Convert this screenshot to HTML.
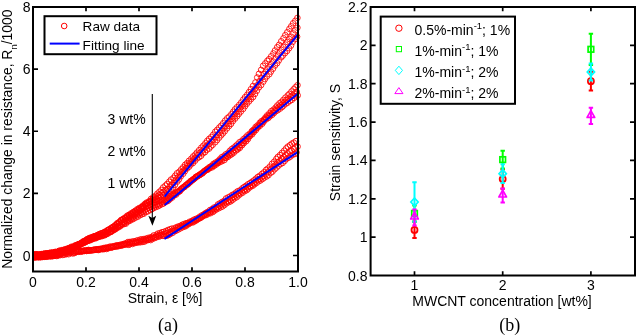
<!DOCTYPE html><html><head><meta charset="utf-8"><style>html,body{margin:0;padding:0;background:#fff;}svg{display:block;will-change:transform}</style></head><body>
<svg width="637" height="335" viewBox="0 0 637 335" font-family='"Liberation Sans", sans-serif'>
<rect width="637" height="335" fill="#fff"/>
<path d="M33.0 271.5v-4.3M33.0 7.0v4.2M86.0 271.5v-4.3M86.0 7.0v4.2M139.0 271.5v-4.3M139.0 7.0v4.2M192.0 271.5v-4.3M192.0 7.0v4.2M245.0 271.5v-4.3M245.0 7.0v4.2M298.0 271.5v-4.3M298.0 7.0v4.2M33.0 255.50h5M298.0 255.50h-5M33.0 193.38h5M298.0 193.38h-5M33.0 131.25h5M298.0 131.25h-5M33.0 69.12h5M298.0 69.12h-5" stroke="#000" stroke-width="1.7" fill="none"/>
<defs><clipPath id="lc"><rect x="33.0" y="0" width="269.0" height="271.5"/></clipPath></defs>
<g clip-path="url(#lc)"><g fill="none" stroke="#ff0000" stroke-width="0.85">
<path d="M31.3 255.1a2.8 2.8 0 1 0 5.6 0a2.8 2.8 0 1 0 -5.6 0M33.4 254.4a2.8 2.8 0 1 0 5.6 0a2.8 2.8 0 1 0 -5.6 0M35.1 254.6a2.8 2.8 0 1 0 5.6 0a2.8 2.8 0 1 0 -5.6 0M37.3 254.4a2.8 2.8 0 1 0 5.6 0a2.8 2.8 0 1 0 -5.6 0M39.2 254.2a2.8 2.8 0 1 0 5.6 0a2.8 2.8 0 1 0 -5.6 0M41.1 254.0a2.8 2.8 0 1 0 5.6 0a2.8 2.8 0 1 0 -5.6 0M43.2 253.7a2.8 2.8 0 1 0 5.6 0a2.8 2.8 0 1 0 -5.6 0M45.2 253.6a2.8 2.8 0 1 0 5.6 0a2.8 2.8 0 1 0 -5.6 0M47.1 253.2a2.8 2.8 0 1 0 5.6 0a2.8 2.8 0 1 0 -5.6 0M49.2 253.0a2.8 2.8 0 1 0 5.6 0a2.8 2.8 0 1 0 -5.6 0M51.4 252.8a2.8 2.8 0 1 0 5.6 0a2.8 2.8 0 1 0 -5.6 0M52.8 252.9a2.8 2.8 0 1 0 5.6 0a2.8 2.8 0 1 0 -5.6 0M55.2 252.0a2.8 2.8 0 1 0 5.6 0a2.8 2.8 0 1 0 -5.6 0M57.3 252.1a2.8 2.8 0 1 0 5.6 0a2.8 2.8 0 1 0 -5.6 0M59.5 252.0a2.8 2.8 0 1 0 5.6 0a2.8 2.8 0 1 0 -5.6 0M61.2 251.4a2.8 2.8 0 1 0 5.6 0a2.8 2.8 0 1 0 -5.6 0M63.3 252.0a2.8 2.8 0 1 0 5.6 0a2.8 2.8 0 1 0 -5.6 0M65.1 251.5a2.8 2.8 0 1 0 5.6 0a2.8 2.8 0 1 0 -5.6 0M67.2 250.8a2.8 2.8 0 1 0 5.6 0a2.8 2.8 0 1 0 -5.6 0M69.0 251.1a2.8 2.8 0 1 0 5.6 0a2.8 2.8 0 1 0 -5.6 0M71.2 250.8a2.8 2.8 0 1 0 5.6 0a2.8 2.8 0 1 0 -5.6 0M73.2 250.7a2.8 2.8 0 1 0 5.6 0a2.8 2.8 0 1 0 -5.6 0M75.2 250.9a2.8 2.8 0 1 0 5.6 0a2.8 2.8 0 1 0 -5.6 0M77.3 250.7a2.8 2.8 0 1 0 5.6 0a2.8 2.8 0 1 0 -5.6 0M79.3 251.0a2.8 2.8 0 1 0 5.6 0a2.8 2.8 0 1 0 -5.6 0M81.3 250.6a2.8 2.8 0 1 0 5.6 0a2.8 2.8 0 1 0 -5.6 0M83.4 250.6a2.8 2.8 0 1 0 5.6 0a2.8 2.8 0 1 0 -5.6 0M85.4 250.4a2.8 2.8 0 1 0 5.6 0a2.8 2.8 0 1 0 -5.6 0M87.0 250.5a2.8 2.8 0 1 0 5.6 0a2.8 2.8 0 1 0 -5.6 0M89.2 250.2a2.8 2.8 0 1 0 5.6 0a2.8 2.8 0 1 0 -5.6 0M91.1 250.1a2.8 2.8 0 1 0 5.6 0a2.8 2.8 0 1 0 -5.6 0M93.3 249.4a2.8 2.8 0 1 0 5.6 0a2.8 2.8 0 1 0 -5.6 0M95.3 249.1a2.8 2.8 0 1 0 5.6 0a2.8 2.8 0 1 0 -5.6 0M97.0 249.0a2.8 2.8 0 1 0 5.6 0a2.8 2.8 0 1 0 -5.6 0M99.4 248.5a2.8 2.8 0 1 0 5.6 0a2.8 2.8 0 1 0 -5.6 0M101.1 248.0a2.8 2.8 0 1 0 5.6 0a2.8 2.8 0 1 0 -5.6 0M103.3 247.9a2.8 2.8 0 1 0 5.6 0a2.8 2.8 0 1 0 -5.6 0M105.2 247.6a2.8 2.8 0 1 0 5.6 0a2.8 2.8 0 1 0 -5.6 0M107.2 246.6a2.8 2.8 0 1 0 5.6 0a2.8 2.8 0 1 0 -5.6 0M109.3 246.5a2.8 2.8 0 1 0 5.6 0a2.8 2.8 0 1 0 -5.6 0M111.0 246.2a2.8 2.8 0 1 0 5.6 0a2.8 2.8 0 1 0 -5.6 0M113.4 245.4a2.8 2.8 0 1 0 5.6 0a2.8 2.8 0 1 0 -5.6 0M115.1 245.4a2.8 2.8 0 1 0 5.6 0a2.8 2.8 0 1 0 -5.6 0M117.3 244.8a2.8 2.8 0 1 0 5.6 0a2.8 2.8 0 1 0 -5.6 0M119.4 244.4a2.8 2.8 0 1 0 5.6 0a2.8 2.8 0 1 0 -5.6 0M121.2 243.8a2.8 2.8 0 1 0 5.6 0a2.8 2.8 0 1 0 -5.6 0M123.4 243.1a2.8 2.8 0 1 0 5.6 0a2.8 2.8 0 1 0 -5.6 0M125.2 242.0a2.8 2.8 0 1 0 5.6 0a2.8 2.8 0 1 0 -5.6 0M127.0 242.0a2.8 2.8 0 1 0 5.6 0a2.8 2.8 0 1 0 -5.6 0M129.1 241.6a2.8 2.8 0 1 0 5.6 0a2.8 2.8 0 1 0 -5.6 0M131.2 241.3a2.8 2.8 0 1 0 5.6 0a2.8 2.8 0 1 0 -5.6 0M133.4 240.8a2.8 2.8 0 1 0 5.6 0a2.8 2.8 0 1 0 -5.6 0M135.1 240.3a2.8 2.8 0 1 0 5.6 0a2.8 2.8 0 1 0 -5.6 0M137.5 239.5a2.8 2.8 0 1 0 5.6 0a2.8 2.8 0 1 0 -5.6 0M139.1 239.4a2.8 2.8 0 1 0 5.6 0a2.8 2.8 0 1 0 -5.6 0M141.2 239.0a2.8 2.8 0 1 0 5.6 0a2.8 2.8 0 1 0 -5.6 0M143.2 238.7a2.8 2.8 0 1 0 5.6 0a2.8 2.8 0 1 0 -5.6 0M145.1 238.0a2.8 2.8 0 1 0 5.6 0a2.8 2.8 0 1 0 -5.6 0M147.1 237.5a2.8 2.8 0 1 0 5.6 0a2.8 2.8 0 1 0 -5.6 0M149.5 236.8a2.8 2.8 0 1 0 5.6 0a2.8 2.8 0 1 0 -5.6 0M150.9 235.4a2.8 2.8 0 1 0 5.6 0a2.8 2.8 0 1 0 -5.6 0M153.6 234.9a2.8 2.8 0 1 0 5.6 0a2.8 2.8 0 1 0 -5.6 0M155.0 233.6a2.8 2.8 0 1 0 5.6 0a2.8 2.8 0 1 0 -5.6 0M157.1 233.1a2.8 2.8 0 1 0 5.6 0a2.8 2.8 0 1 0 -5.6 0M159.2 232.2a2.8 2.8 0 1 0 5.6 0a2.8 2.8 0 1 0 -5.6 0M161.2 231.8a2.8 2.8 0 1 0 5.6 0a2.8 2.8 0 1 0 -5.6 0M163.2 231.0a2.8 2.8 0 1 0 5.6 0a2.8 2.8 0 1 0 -5.6 0M165.2 230.0a2.8 2.8 0 1 0 5.6 0a2.8 2.8 0 1 0 -5.6 0M167.2 229.3a2.8 2.8 0 1 0 5.6 0a2.8 2.8 0 1 0 -5.6 0M169.1 228.6a2.8 2.8 0 1 0 5.6 0a2.8 2.8 0 1 0 -5.6 0M171.2 228.5a2.8 2.8 0 1 0 5.6 0a2.8 2.8 0 1 0 -5.6 0M173.3 227.4a2.8 2.8 0 1 0 5.6 0a2.8 2.8 0 1 0 -5.6 0M175.2 226.6a2.8 2.8 0 1 0 5.6 0a2.8 2.8 0 1 0 -5.6 0M177.3 226.0a2.8 2.8 0 1 0 5.6 0a2.8 2.8 0 1 0 -5.6 0M179.3 224.8a2.8 2.8 0 1 0 5.6 0a2.8 2.8 0 1 0 -5.6 0M181.1 224.1a2.8 2.8 0 1 0 5.6 0a2.8 2.8 0 1 0 -5.6 0M183.2 223.2a2.8 2.8 0 1 0 5.6 0a2.8 2.8 0 1 0 -5.6 0M185.0 223.0a2.8 2.8 0 1 0 5.6 0a2.8 2.8 0 1 0 -5.6 0M186.9 221.7a2.8 2.8 0 1 0 5.6 0a2.8 2.8 0 1 0 -5.6 0M189.4 220.8a2.8 2.8 0 1 0 5.6 0a2.8 2.8 0 1 0 -5.6 0M191.1 219.7a2.8 2.8 0 1 0 5.6 0a2.8 2.8 0 1 0 -5.6 0M193.3 218.8a2.8 2.8 0 1 0 5.6 0a2.8 2.8 0 1 0 -5.6 0M195.5 217.9a2.8 2.8 0 1 0 5.6 0a2.8 2.8 0 1 0 -5.6 0M197.1 216.6a2.8 2.8 0 1 0 5.6 0a2.8 2.8 0 1 0 -5.6 0M199.2 215.3a2.8 2.8 0 1 0 5.6 0a2.8 2.8 0 1 0 -5.6 0M201.2 214.2a2.8 2.8 0 1 0 5.6 0a2.8 2.8 0 1 0 -5.6 0M203.0 212.9a2.8 2.8 0 1 0 5.6 0a2.8 2.8 0 1 0 -5.6 0M205.1 211.8a2.8 2.8 0 1 0 5.6 0a2.8 2.8 0 1 0 -5.6 0M207.3 210.0a2.8 2.8 0 1 0 5.6 0a2.8 2.8 0 1 0 -5.6 0M209.3 209.2a2.8 2.8 0 1 0 5.6 0a2.8 2.8 0 1 0 -5.6 0M211.1 207.6a2.8 2.8 0 1 0 5.6 0a2.8 2.8 0 1 0 -5.6 0M213.4 206.9a2.8 2.8 0 1 0 5.6 0a2.8 2.8 0 1 0 -5.6 0M215.1 204.5a2.8 2.8 0 1 0 5.6 0a2.8 2.8 0 1 0 -5.6 0M217.0 203.4a2.8 2.8 0 1 0 5.6 0a2.8 2.8 0 1 0 -5.6 0M219.2 202.0a2.8 2.8 0 1 0 5.6 0a2.8 2.8 0 1 0 -5.6 0M221.4 200.9a2.8 2.8 0 1 0 5.6 0a2.8 2.8 0 1 0 -5.6 0M223.2 198.5a2.8 2.8 0 1 0 5.6 0a2.8 2.8 0 1 0 -5.6 0M225.4 197.4a2.8 2.8 0 1 0 5.6 0a2.8 2.8 0 1 0 -5.6 0M227.3 196.5a2.8 2.8 0 1 0 5.6 0a2.8 2.8 0 1 0 -5.6 0M229.5 194.9a2.8 2.8 0 1 0 5.6 0a2.8 2.8 0 1 0 -5.6 0M231.1 194.4a2.8 2.8 0 1 0 5.6 0a2.8 2.8 0 1 0 -5.6 0M233.1 192.6a2.8 2.8 0 1 0 5.6 0a2.8 2.8 0 1 0 -5.6 0M235.0 191.2a2.8 2.8 0 1 0 5.6 0a2.8 2.8 0 1 0 -5.6 0M237.1 190.4a2.8 2.8 0 1 0 5.6 0a2.8 2.8 0 1 0 -5.6 0M239.3 188.5a2.8 2.8 0 1 0 5.6 0a2.8 2.8 0 1 0 -5.6 0M241.2 187.1a2.8 2.8 0 1 0 5.6 0a2.8 2.8 0 1 0 -5.6 0M243.2 185.8a2.8 2.8 0 1 0 5.6 0a2.8 2.8 0 1 0 -5.6 0M245.2 184.3a2.8 2.8 0 1 0 5.6 0a2.8 2.8 0 1 0 -5.6 0M247.2 183.1a2.8 2.8 0 1 0 5.6 0a2.8 2.8 0 1 0 -5.6 0M249.2 181.7a2.8 2.8 0 1 0 5.6 0a2.8 2.8 0 1 0 -5.6 0M251.2 180.4a2.8 2.8 0 1 0 5.6 0a2.8 2.8 0 1 0 -5.6 0M253.1 178.7a2.8 2.8 0 1 0 5.6 0a2.8 2.8 0 1 0 -5.6 0M255.0 177.0a2.8 2.8 0 1 0 5.6 0a2.8 2.8 0 1 0 -5.6 0M257.1 175.7a2.8 2.8 0 1 0 5.6 0a2.8 2.8 0 1 0 -5.6 0M259.3 173.8a2.8 2.8 0 1 0 5.6 0a2.8 2.8 0 1 0 -5.6 0M261.2 172.3a2.8 2.8 0 1 0 5.6 0a2.8 2.8 0 1 0 -5.6 0M263.3 169.9a2.8 2.8 0 1 0 5.6 0a2.8 2.8 0 1 0 -5.6 0M265.0 168.6a2.8 2.8 0 1 0 5.6 0a2.8 2.8 0 1 0 -5.6 0M267.1 166.6a2.8 2.8 0 1 0 5.6 0a2.8 2.8 0 1 0 -5.6 0M269.2 163.8a2.8 2.8 0 1 0 5.6 0a2.8 2.8 0 1 0 -5.6 0M271.3 161.7a2.8 2.8 0 1 0 5.6 0a2.8 2.8 0 1 0 -5.6 0M273.5 159.0a2.8 2.8 0 1 0 5.6 0a2.8 2.8 0 1 0 -5.6 0M275.0 157.0a2.8 2.8 0 1 0 5.6 0a2.8 2.8 0 1 0 -5.6 0M277.2 155.1a2.8 2.8 0 1 0 5.6 0a2.8 2.8 0 1 0 -5.6 0M279.2 152.9a2.8 2.8 0 1 0 5.6 0a2.8 2.8 0 1 0 -5.6 0M281.3 150.7a2.8 2.8 0 1 0 5.6 0a2.8 2.8 0 1 0 -5.6 0M283.3 148.4a2.8 2.8 0 1 0 5.6 0a2.8 2.8 0 1 0 -5.6 0M285.1 146.6a2.8 2.8 0 1 0 5.6 0a2.8 2.8 0 1 0 -5.6 0M287.3 145.1a2.8 2.8 0 1 0 5.6 0a2.8 2.8 0 1 0 -5.6 0M289.1 143.6a2.8 2.8 0 1 0 5.6 0a2.8 2.8 0 1 0 -5.6 0M291.0 142.6a2.8 2.8 0 1 0 5.6 0a2.8 2.8 0 1 0 -5.6 0M293.2 141.1a2.8 2.8 0 1 0 5.6 0a2.8 2.8 0 1 0 -5.6 0M30.9 256.1a2.8 2.8 0 1 0 5.6 0a2.8 2.8 0 1 0 -5.6 0M32.7 256.2a2.8 2.8 0 1 0 5.6 0a2.8 2.8 0 1 0 -5.6 0M34.9 255.7a2.8 2.8 0 1 0 5.6 0a2.8 2.8 0 1 0 -5.6 0M37.3 255.1a2.8 2.8 0 1 0 5.6 0a2.8 2.8 0 1 0 -5.6 0M38.8 255.4a2.8 2.8 0 1 0 5.6 0a2.8 2.8 0 1 0 -5.6 0M40.9 255.6a2.8 2.8 0 1 0 5.6 0a2.8 2.8 0 1 0 -5.6 0M43.0 254.8a2.8 2.8 0 1 0 5.6 0a2.8 2.8 0 1 0 -5.6 0M44.8 255.3a2.8 2.8 0 1 0 5.6 0a2.8 2.8 0 1 0 -5.6 0M46.9 254.9a2.8 2.8 0 1 0 5.6 0a2.8 2.8 0 1 0 -5.6 0M48.9 254.5a2.8 2.8 0 1 0 5.6 0a2.8 2.8 0 1 0 -5.6 0M50.8 254.6a2.8 2.8 0 1 0 5.6 0a2.8 2.8 0 1 0 -5.6 0M52.8 254.0a2.8 2.8 0 1 0 5.6 0a2.8 2.8 0 1 0 -5.6 0M55.0 253.9a2.8 2.8 0 1 0 5.6 0a2.8 2.8 0 1 0 -5.6 0M57.0 253.9a2.8 2.8 0 1 0 5.6 0a2.8 2.8 0 1 0 -5.6 0M58.9 253.6a2.8 2.8 0 1 0 5.6 0a2.8 2.8 0 1 0 -5.6 0M61.0 253.1a2.8 2.8 0 1 0 5.6 0a2.8 2.8 0 1 0 -5.6 0M62.8 253.5a2.8 2.8 0 1 0 5.6 0a2.8 2.8 0 1 0 -5.6 0M64.9 252.6a2.8 2.8 0 1 0 5.6 0a2.8 2.8 0 1 0 -5.6 0M66.8 252.4a2.8 2.8 0 1 0 5.6 0a2.8 2.8 0 1 0 -5.6 0M68.8 252.3a2.8 2.8 0 1 0 5.6 0a2.8 2.8 0 1 0 -5.6 0M70.9 252.4a2.8 2.8 0 1 0 5.6 0a2.8 2.8 0 1 0 -5.6 0M73.0 251.9a2.8 2.8 0 1 0 5.6 0a2.8 2.8 0 1 0 -5.6 0M75.1 251.6a2.8 2.8 0 1 0 5.6 0a2.8 2.8 0 1 0 -5.6 0M76.8 251.3a2.8 2.8 0 1 0 5.6 0a2.8 2.8 0 1 0 -5.6 0M78.9 251.1a2.8 2.8 0 1 0 5.6 0a2.8 2.8 0 1 0 -5.6 0M80.9 250.7a2.8 2.8 0 1 0 5.6 0a2.8 2.8 0 1 0 -5.6 0M83.1 250.4a2.8 2.8 0 1 0 5.6 0a2.8 2.8 0 1 0 -5.6 0M84.8 250.7a2.8 2.8 0 1 0 5.6 0a2.8 2.8 0 1 0 -5.6 0M86.8 250.3a2.8 2.8 0 1 0 5.6 0a2.8 2.8 0 1 0 -5.6 0M88.7 250.3a2.8 2.8 0 1 0 5.6 0a2.8 2.8 0 1 0 -5.6 0M90.8 249.9a2.8 2.8 0 1 0 5.6 0a2.8 2.8 0 1 0 -5.6 0M93.0 249.7a2.8 2.8 0 1 0 5.6 0a2.8 2.8 0 1 0 -5.6 0M94.9 249.8a2.8 2.8 0 1 0 5.6 0a2.8 2.8 0 1 0 -5.6 0M96.7 249.3a2.8 2.8 0 1 0 5.6 0a2.8 2.8 0 1 0 -5.6 0M98.9 249.1a2.8 2.8 0 1 0 5.6 0a2.8 2.8 0 1 0 -5.6 0M101.1 248.8a2.8 2.8 0 1 0 5.6 0a2.8 2.8 0 1 0 -5.6 0M102.9 247.7a2.8 2.8 0 1 0 5.6 0a2.8 2.8 0 1 0 -5.6 0M105.0 247.7a2.8 2.8 0 1 0 5.6 0a2.8 2.8 0 1 0 -5.6 0M106.8 247.3a2.8 2.8 0 1 0 5.6 0a2.8 2.8 0 1 0 -5.6 0M109.0 247.3a2.8 2.8 0 1 0 5.6 0a2.8 2.8 0 1 0 -5.6 0M110.8 246.8a2.8 2.8 0 1 0 5.6 0a2.8 2.8 0 1 0 -5.6 0M113.0 246.1a2.8 2.8 0 1 0 5.6 0a2.8 2.8 0 1 0 -5.6 0M114.6 245.8a2.8 2.8 0 1 0 5.6 0a2.8 2.8 0 1 0 -5.6 0M116.9 245.5a2.8 2.8 0 1 0 5.6 0a2.8 2.8 0 1 0 -5.6 0M118.8 245.1a2.8 2.8 0 1 0 5.6 0a2.8 2.8 0 1 0 -5.6 0M120.7 244.6a2.8 2.8 0 1 0 5.6 0a2.8 2.8 0 1 0 -5.6 0M122.8 244.1a2.8 2.8 0 1 0 5.6 0a2.8 2.8 0 1 0 -5.6 0M125.0 243.7a2.8 2.8 0 1 0 5.6 0a2.8 2.8 0 1 0 -5.6 0M126.9 243.0a2.8 2.8 0 1 0 5.6 0a2.8 2.8 0 1 0 -5.6 0M129.1 242.8a2.8 2.8 0 1 0 5.6 0a2.8 2.8 0 1 0 -5.6 0M130.7 242.6a2.8 2.8 0 1 0 5.6 0a2.8 2.8 0 1 0 -5.6 0M133.0 242.1a2.8 2.8 0 1 0 5.6 0a2.8 2.8 0 1 0 -5.6 0M134.6 242.1a2.8 2.8 0 1 0 5.6 0a2.8 2.8 0 1 0 -5.6 0M137.1 241.1a2.8 2.8 0 1 0 5.6 0a2.8 2.8 0 1 0 -5.6 0M138.7 240.5a2.8 2.8 0 1 0 5.6 0a2.8 2.8 0 1 0 -5.6 0M141.0 240.5a2.8 2.8 0 1 0 5.6 0a2.8 2.8 0 1 0 -5.6 0M143.0 239.8a2.8 2.8 0 1 0 5.6 0a2.8 2.8 0 1 0 -5.6 0M145.1 239.5a2.8 2.8 0 1 0 5.6 0a2.8 2.8 0 1 0 -5.6 0M147.0 238.9a2.8 2.8 0 1 0 5.6 0a2.8 2.8 0 1 0 -5.6 0M148.8 238.0a2.8 2.8 0 1 0 5.6 0a2.8 2.8 0 1 0 -5.6 0M151.0 237.4a2.8 2.8 0 1 0 5.6 0a2.8 2.8 0 1 0 -5.6 0M152.8 236.7a2.8 2.8 0 1 0 5.6 0a2.8 2.8 0 1 0 -5.6 0M155.0 235.9a2.8 2.8 0 1 0 5.6 0a2.8 2.8 0 1 0 -5.6 0M156.8 235.0a2.8 2.8 0 1 0 5.6 0a2.8 2.8 0 1 0 -5.6 0M158.6 234.5a2.8 2.8 0 1 0 5.6 0a2.8 2.8 0 1 0 -5.6 0M160.9 234.2a2.8 2.8 0 1 0 5.6 0a2.8 2.8 0 1 0 -5.6 0M163.0 233.5a2.8 2.8 0 1 0 5.6 0a2.8 2.8 0 1 0 -5.6 0M164.8 232.7a2.8 2.8 0 1 0 5.6 0a2.8 2.8 0 1 0 -5.6 0M167.2 232.2a2.8 2.8 0 1 0 5.6 0a2.8 2.8 0 1 0 -5.6 0M169.0 231.0a2.8 2.8 0 1 0 5.6 0a2.8 2.8 0 1 0 -5.6 0M170.9 230.7a2.8 2.8 0 1 0 5.6 0a2.8 2.8 0 1 0 -5.6 0M172.7 229.7a2.8 2.8 0 1 0 5.6 0a2.8 2.8 0 1 0 -5.6 0M175.0 227.9a2.8 2.8 0 1 0 5.6 0a2.8 2.8 0 1 0 -5.6 0M176.8 227.2a2.8 2.8 0 1 0 5.6 0a2.8 2.8 0 1 0 -5.6 0M179.0 226.3a2.8 2.8 0 1 0 5.6 0a2.8 2.8 0 1 0 -5.6 0M180.8 225.9a2.8 2.8 0 1 0 5.6 0a2.8 2.8 0 1 0 -5.6 0M182.9 225.0a2.8 2.8 0 1 0 5.6 0a2.8 2.8 0 1 0 -5.6 0M184.9 223.8a2.8 2.8 0 1 0 5.6 0a2.8 2.8 0 1 0 -5.6 0M187.0 222.8a2.8 2.8 0 1 0 5.6 0a2.8 2.8 0 1 0 -5.6 0M188.8 222.0a2.8 2.8 0 1 0 5.6 0a2.8 2.8 0 1 0 -5.6 0M190.8 221.2a2.8 2.8 0 1 0 5.6 0a2.8 2.8 0 1 0 -5.6 0M192.9 220.0a2.8 2.8 0 1 0 5.6 0a2.8 2.8 0 1 0 -5.6 0M194.8 219.2a2.8 2.8 0 1 0 5.6 0a2.8 2.8 0 1 0 -5.6 0M196.9 218.2a2.8 2.8 0 1 0 5.6 0a2.8 2.8 0 1 0 -5.6 0M198.8 216.6a2.8 2.8 0 1 0 5.6 0a2.8 2.8 0 1 0 -5.6 0M200.9 215.6a2.8 2.8 0 1 0 5.6 0a2.8 2.8 0 1 0 -5.6 0M202.7 214.1a2.8 2.8 0 1 0 5.6 0a2.8 2.8 0 1 0 -5.6 0M204.8 213.0a2.8 2.8 0 1 0 5.6 0a2.8 2.8 0 1 0 -5.6 0M207.1 212.3a2.8 2.8 0 1 0 5.6 0a2.8 2.8 0 1 0 -5.6 0M208.9 211.0a2.8 2.8 0 1 0 5.6 0a2.8 2.8 0 1 0 -5.6 0M210.9 209.5a2.8 2.8 0 1 0 5.6 0a2.8 2.8 0 1 0 -5.6 0M213.2 208.6a2.8 2.8 0 1 0 5.6 0a2.8 2.8 0 1 0 -5.6 0M214.8 207.3a2.8 2.8 0 1 0 5.6 0a2.8 2.8 0 1 0 -5.6 0M216.8 205.8a2.8 2.8 0 1 0 5.6 0a2.8 2.8 0 1 0 -5.6 0M218.8 204.4a2.8 2.8 0 1 0 5.6 0a2.8 2.8 0 1 0 -5.6 0M221.2 203.4a2.8 2.8 0 1 0 5.6 0a2.8 2.8 0 1 0 -5.6 0M223.1 202.0a2.8 2.8 0 1 0 5.6 0a2.8 2.8 0 1 0 -5.6 0M224.9 201.2a2.8 2.8 0 1 0 5.6 0a2.8 2.8 0 1 0 -5.6 0M227.0 199.9a2.8 2.8 0 1 0 5.6 0a2.8 2.8 0 1 0 -5.6 0M228.9 198.1a2.8 2.8 0 1 0 5.6 0a2.8 2.8 0 1 0 -5.6 0M230.8 196.9a2.8 2.8 0 1 0 5.6 0a2.8 2.8 0 1 0 -5.6 0M232.9 195.5a2.8 2.8 0 1 0 5.6 0a2.8 2.8 0 1 0 -5.6 0M234.7 194.3a2.8 2.8 0 1 0 5.6 0a2.8 2.8 0 1 0 -5.6 0M236.6 192.8a2.8 2.8 0 1 0 5.6 0a2.8 2.8 0 1 0 -5.6 0M239.0 191.5a2.8 2.8 0 1 0 5.6 0a2.8 2.8 0 1 0 -5.6 0M240.9 190.1a2.8 2.8 0 1 0 5.6 0a2.8 2.8 0 1 0 -5.6 0M242.8 188.8a2.8 2.8 0 1 0 5.6 0a2.8 2.8 0 1 0 -5.6 0M245.0 187.1a2.8 2.8 0 1 0 5.6 0a2.8 2.8 0 1 0 -5.6 0M246.9 186.0a2.8 2.8 0 1 0 5.6 0a2.8 2.8 0 1 0 -5.6 0M248.9 185.0a2.8 2.8 0 1 0 5.6 0a2.8 2.8 0 1 0 -5.6 0M251.1 183.2a2.8 2.8 0 1 0 5.6 0a2.8 2.8 0 1 0 -5.6 0M252.8 181.5a2.8 2.8 0 1 0 5.6 0a2.8 2.8 0 1 0 -5.6 0M254.9 179.8a2.8 2.8 0 1 0 5.6 0a2.8 2.8 0 1 0 -5.6 0M256.9 178.9a2.8 2.8 0 1 0 5.6 0a2.8 2.8 0 1 0 -5.6 0M258.8 177.3a2.8 2.8 0 1 0 5.6 0a2.8 2.8 0 1 0 -5.6 0M260.6 175.9a2.8 2.8 0 1 0 5.6 0a2.8 2.8 0 1 0 -5.6 0M262.9 174.2a2.8 2.8 0 1 0 5.6 0a2.8 2.8 0 1 0 -5.6 0M265.2 172.2a2.8 2.8 0 1 0 5.6 0a2.8 2.8 0 1 0 -5.6 0M266.7 170.3a2.8 2.8 0 1 0 5.6 0a2.8 2.8 0 1 0 -5.6 0M269.0 168.5a2.8 2.8 0 1 0 5.6 0a2.8 2.8 0 1 0 -5.6 0M271.0 166.5a2.8 2.8 0 1 0 5.6 0a2.8 2.8 0 1 0 -5.6 0M272.9 164.9a2.8 2.8 0 1 0 5.6 0a2.8 2.8 0 1 0 -5.6 0M274.8 162.4a2.8 2.8 0 1 0 5.6 0a2.8 2.8 0 1 0 -5.6 0M276.7 161.2a2.8 2.8 0 1 0 5.6 0a2.8 2.8 0 1 0 -5.6 0M278.9 158.7a2.8 2.8 0 1 0 5.6 0a2.8 2.8 0 1 0 -5.6 0M280.9 157.1a2.8 2.8 0 1 0 5.6 0a2.8 2.8 0 1 0 -5.6 0M282.7 155.2a2.8 2.8 0 1 0 5.6 0a2.8 2.8 0 1 0 -5.6 0M285.0 153.4a2.8 2.8 0 1 0 5.6 0a2.8 2.8 0 1 0 -5.6 0M287.1 151.2a2.8 2.8 0 1 0 5.6 0a2.8 2.8 0 1 0 -5.6 0M288.8 150.8a2.8 2.8 0 1 0 5.6 0a2.8 2.8 0 1 0 -5.6 0M291.1 149.0a2.8 2.8 0 1 0 5.6 0a2.8 2.8 0 1 0 -5.6 0M292.6 147.5a2.8 2.8 0 1 0 5.6 0a2.8 2.8 0 1 0 -5.6 0M294.8 146.6a2.8 2.8 0 1 0 5.6 0a2.8 2.8 0 1 0 -5.6 0M31.9 257.1a2.8 2.8 0 1 0 5.6 0a2.8 2.8 0 1 0 -5.6 0M33.9 256.6a2.8 2.8 0 1 0 5.6 0a2.8 2.8 0 1 0 -5.6 0M36.0 257.4a2.8 2.8 0 1 0 5.6 0a2.8 2.8 0 1 0 -5.6 0M37.9 257.1a2.8 2.8 0 1 0 5.6 0a2.8 2.8 0 1 0 -5.6 0M39.7 257.0a2.8 2.8 0 1 0 5.6 0a2.8 2.8 0 1 0 -5.6 0M41.8 256.8a2.8 2.8 0 1 0 5.6 0a2.8 2.8 0 1 0 -5.6 0M43.9 256.7a2.8 2.8 0 1 0 5.6 0a2.8 2.8 0 1 0 -5.6 0M45.9 256.0a2.8 2.8 0 1 0 5.6 0a2.8 2.8 0 1 0 -5.6 0M47.7 256.5a2.8 2.8 0 1 0 5.6 0a2.8 2.8 0 1 0 -5.6 0M49.7 255.9a2.8 2.8 0 1 0 5.6 0a2.8 2.8 0 1 0 -5.6 0M52.0 255.5a2.8 2.8 0 1 0 5.6 0a2.8 2.8 0 1 0 -5.6 0M54.0 256.0a2.8 2.8 0 1 0 5.6 0a2.8 2.8 0 1 0 -5.6 0M55.8 255.4a2.8 2.8 0 1 0 5.6 0a2.8 2.8 0 1 0 -5.6 0M57.7 255.1a2.8 2.8 0 1 0 5.6 0a2.8 2.8 0 1 0 -5.6 0M60.0 255.0a2.8 2.8 0 1 0 5.6 0a2.8 2.8 0 1 0 -5.6 0M61.8 254.6a2.8 2.8 0 1 0 5.6 0a2.8 2.8 0 1 0 -5.6 0M63.8 254.1a2.8 2.8 0 1 0 5.6 0a2.8 2.8 0 1 0 -5.6 0M65.9 254.2a2.8 2.8 0 1 0 5.6 0a2.8 2.8 0 1 0 -5.6 0M67.9 252.9a2.8 2.8 0 1 0 5.6 0a2.8 2.8 0 1 0 -5.6 0M70.0 253.5a2.8 2.8 0 1 0 5.6 0a2.8 2.8 0 1 0 -5.6 0M71.9 253.0a2.8 2.8 0 1 0 5.6 0a2.8 2.8 0 1 0 -5.6 0M73.6 251.9a2.8 2.8 0 1 0 5.6 0a2.8 2.8 0 1 0 -5.6 0M75.8 251.8a2.8 2.8 0 1 0 5.6 0a2.8 2.8 0 1 0 -5.6 0M78.0 251.8a2.8 2.8 0 1 0 5.6 0a2.8 2.8 0 1 0 -5.6 0M80.0 251.3a2.8 2.8 0 1 0 5.6 0a2.8 2.8 0 1 0 -5.6 0M81.7 251.0a2.8 2.8 0 1 0 5.6 0a2.8 2.8 0 1 0 -5.6 0M83.7 251.0a2.8 2.8 0 1 0 5.6 0a2.8 2.8 0 1 0 -5.6 0M85.7 249.9a2.8 2.8 0 1 0 5.6 0a2.8 2.8 0 1 0 -5.6 0M87.4 250.5a2.8 2.8 0 1 0 5.6 0a2.8 2.8 0 1 0 -5.6 0M89.8 250.1a2.8 2.8 0 1 0 5.6 0a2.8 2.8 0 1 0 -5.6 0M91.6 249.6a2.8 2.8 0 1 0 5.6 0a2.8 2.8 0 1 0 -5.6 0M93.8 249.7a2.8 2.8 0 1 0 5.6 0a2.8 2.8 0 1 0 -5.6 0M95.9 250.0a2.8 2.8 0 1 0 5.6 0a2.8 2.8 0 1 0 -5.6 0M97.7 249.0a2.8 2.8 0 1 0 5.6 0a2.8 2.8 0 1 0 -5.6 0M100.1 249.3a2.8 2.8 0 1 0 5.6 0a2.8 2.8 0 1 0 -5.6 0M101.9 249.0a2.8 2.8 0 1 0 5.6 0a2.8 2.8 0 1 0 -5.6 0M103.8 249.0a2.8 2.8 0 1 0 5.6 0a2.8 2.8 0 1 0 -5.6 0M105.6 248.2a2.8 2.8 0 1 0 5.6 0a2.8 2.8 0 1 0 -5.6 0M108.2 247.7a2.8 2.8 0 1 0 5.6 0a2.8 2.8 0 1 0 -5.6 0M109.9 247.1a2.8 2.8 0 1 0 5.6 0a2.8 2.8 0 1 0 -5.6 0M111.9 246.6a2.8 2.8 0 1 0 5.6 0a2.8 2.8 0 1 0 -5.6 0M113.8 246.7a2.8 2.8 0 1 0 5.6 0a2.8 2.8 0 1 0 -5.6 0M116.0 246.1a2.8 2.8 0 1 0 5.6 0a2.8 2.8 0 1 0 -5.6 0M118.1 245.6a2.8 2.8 0 1 0 5.6 0a2.8 2.8 0 1 0 -5.6 0M119.8 245.3a2.8 2.8 0 1 0 5.6 0a2.8 2.8 0 1 0 -5.6 0M121.7 244.6a2.8 2.8 0 1 0 5.6 0a2.8 2.8 0 1 0 -5.6 0M123.8 244.6a2.8 2.8 0 1 0 5.6 0a2.8 2.8 0 1 0 -5.6 0M126.1 244.9a2.8 2.8 0 1 0 5.6 0a2.8 2.8 0 1 0 -5.6 0M127.8 243.8a2.8 2.8 0 1 0 5.6 0a2.8 2.8 0 1 0 -5.6 0M129.6 244.0a2.8 2.8 0 1 0 5.6 0a2.8 2.8 0 1 0 -5.6 0M132.0 243.1a2.8 2.8 0 1 0 5.6 0a2.8 2.8 0 1 0 -5.6 0M133.8 242.6a2.8 2.8 0 1 0 5.6 0a2.8 2.8 0 1 0 -5.6 0M136.0 242.4a2.8 2.8 0 1 0 5.6 0a2.8 2.8 0 1 0 -5.6 0M137.9 242.2a2.8 2.8 0 1 0 5.6 0a2.8 2.8 0 1 0 -5.6 0M139.9 241.9a2.8 2.8 0 1 0 5.6 0a2.8 2.8 0 1 0 -5.6 0M141.7 241.6a2.8 2.8 0 1 0 5.6 0a2.8 2.8 0 1 0 -5.6 0M143.6 240.5a2.8 2.8 0 1 0 5.6 0a2.8 2.8 0 1 0 -5.6 0M145.8 239.9a2.8 2.8 0 1 0 5.6 0a2.8 2.8 0 1 0 -5.6 0M147.9 240.1a2.8 2.8 0 1 0 5.6 0a2.8 2.8 0 1 0 -5.6 0M149.7 238.9a2.8 2.8 0 1 0 5.6 0a2.8 2.8 0 1 0 -5.6 0M151.8 238.1a2.8 2.8 0 1 0 5.6 0a2.8 2.8 0 1 0 -5.6 0M153.6 237.3a2.8 2.8 0 1 0 5.6 0a2.8 2.8 0 1 0 -5.6 0M156.0 236.7a2.8 2.8 0 1 0 5.6 0a2.8 2.8 0 1 0 -5.6 0M157.8 235.9a2.8 2.8 0 1 0 5.6 0a2.8 2.8 0 1 0 -5.6 0M159.9 235.7a2.8 2.8 0 1 0 5.6 0a2.8 2.8 0 1 0 -5.6 0M161.5 235.9a2.8 2.8 0 1 0 5.6 0a2.8 2.8 0 1 0 -5.6 0M164.1 235.7a2.8 2.8 0 1 0 5.6 0a2.8 2.8 0 1 0 -5.6 0M166.0 234.9a2.8 2.8 0 1 0 5.6 0a2.8 2.8 0 1 0 -5.6 0M167.5 233.9a2.8 2.8 0 1 0 5.6 0a2.8 2.8 0 1 0 -5.6 0M169.8 232.9a2.8 2.8 0 1 0 5.6 0a2.8 2.8 0 1 0 -5.6 0M172.0 231.2a2.8 2.8 0 1 0 5.6 0a2.8 2.8 0 1 0 -5.6 0M173.8 230.4a2.8 2.8 0 1 0 5.6 0a2.8 2.8 0 1 0 -5.6 0M175.7 229.4a2.8 2.8 0 1 0 5.6 0a2.8 2.8 0 1 0 -5.6 0M177.7 228.3a2.8 2.8 0 1 0 5.6 0a2.8 2.8 0 1 0 -5.6 0M179.7 227.3a2.8 2.8 0 1 0 5.6 0a2.8 2.8 0 1 0 -5.6 0M181.9 226.6a2.8 2.8 0 1 0 5.6 0a2.8 2.8 0 1 0 -5.6 0M183.7 225.6a2.8 2.8 0 1 0 5.6 0a2.8 2.8 0 1 0 -5.6 0M186.0 224.1a2.8 2.8 0 1 0 5.6 0a2.8 2.8 0 1 0 -5.6 0M187.7 222.5a2.8 2.8 0 1 0 5.6 0a2.8 2.8 0 1 0 -5.6 0M189.9 222.5a2.8 2.8 0 1 0 5.6 0a2.8 2.8 0 1 0 -5.6 0M191.8 221.4a2.8 2.8 0 1 0 5.6 0a2.8 2.8 0 1 0 -5.6 0M193.7 220.3a2.8 2.8 0 1 0 5.6 0a2.8 2.8 0 1 0 -5.6 0M195.6 218.7a2.8 2.8 0 1 0 5.6 0a2.8 2.8 0 1 0 -5.6 0M197.8 217.9a2.8 2.8 0 1 0 5.6 0a2.8 2.8 0 1 0 -5.6 0M199.3 216.8a2.8 2.8 0 1 0 5.6 0a2.8 2.8 0 1 0 -5.6 0M201.8 215.4a2.8 2.8 0 1 0 5.6 0a2.8 2.8 0 1 0 -5.6 0M203.8 214.9a2.8 2.8 0 1 0 5.6 0a2.8 2.8 0 1 0 -5.6 0M205.5 213.6a2.8 2.8 0 1 0 5.6 0a2.8 2.8 0 1 0 -5.6 0M207.7 213.2a2.8 2.8 0 1 0 5.6 0a2.8 2.8 0 1 0 -5.6 0M210.1 212.0a2.8 2.8 0 1 0 5.6 0a2.8 2.8 0 1 0 -5.6 0M211.8 210.6a2.8 2.8 0 1 0 5.6 0a2.8 2.8 0 1 0 -5.6 0M213.7 209.4a2.8 2.8 0 1 0 5.6 0a2.8 2.8 0 1 0 -5.6 0M215.9 208.3a2.8 2.8 0 1 0 5.6 0a2.8 2.8 0 1 0 -5.6 0M218.0 207.2a2.8 2.8 0 1 0 5.6 0a2.8 2.8 0 1 0 -5.6 0M219.8 206.4a2.8 2.8 0 1 0 5.6 0a2.8 2.8 0 1 0 -5.6 0M221.7 205.0a2.8 2.8 0 1 0 5.6 0a2.8 2.8 0 1 0 -5.6 0M223.8 203.3a2.8 2.8 0 1 0 5.6 0a2.8 2.8 0 1 0 -5.6 0M226.0 202.1a2.8 2.8 0 1 0 5.6 0a2.8 2.8 0 1 0 -5.6 0M228.0 201.3a2.8 2.8 0 1 0 5.6 0a2.8 2.8 0 1 0 -5.6 0M229.9 199.8a2.8 2.8 0 1 0 5.6 0a2.8 2.8 0 1 0 -5.6 0M231.7 198.3a2.8 2.8 0 1 0 5.6 0a2.8 2.8 0 1 0 -5.6 0M233.9 197.2a2.8 2.8 0 1 0 5.6 0a2.8 2.8 0 1 0 -5.6 0M235.9 195.4a2.8 2.8 0 1 0 5.6 0a2.8 2.8 0 1 0 -5.6 0M237.8 193.8a2.8 2.8 0 1 0 5.6 0a2.8 2.8 0 1 0 -5.6 0M239.8 192.7a2.8 2.8 0 1 0 5.6 0a2.8 2.8 0 1 0 -5.6 0M242.0 191.1a2.8 2.8 0 1 0 5.6 0a2.8 2.8 0 1 0 -5.6 0M244.0 190.1a2.8 2.8 0 1 0 5.6 0a2.8 2.8 0 1 0 -5.6 0M245.7 188.5a2.8 2.8 0 1 0 5.6 0a2.8 2.8 0 1 0 -5.6 0M247.7 186.9a2.8 2.8 0 1 0 5.6 0a2.8 2.8 0 1 0 -5.6 0M250.0 185.7a2.8 2.8 0 1 0 5.6 0a2.8 2.8 0 1 0 -5.6 0M251.8 184.3a2.8 2.8 0 1 0 5.6 0a2.8 2.8 0 1 0 -5.6 0M253.9 182.8a2.8 2.8 0 1 0 5.6 0a2.8 2.8 0 1 0 -5.6 0M255.9 181.2a2.8 2.8 0 1 0 5.6 0a2.8 2.8 0 1 0 -5.6 0M257.8 180.4a2.8 2.8 0 1 0 5.6 0a2.8 2.8 0 1 0 -5.6 0M259.9 178.9a2.8 2.8 0 1 0 5.6 0a2.8 2.8 0 1 0 -5.6 0M261.7 177.5a2.8 2.8 0 1 0 5.6 0a2.8 2.8 0 1 0 -5.6 0M263.9 176.4a2.8 2.8 0 1 0 5.6 0a2.8 2.8 0 1 0 -5.6 0M265.7 175.1a2.8 2.8 0 1 0 5.6 0a2.8 2.8 0 1 0 -5.6 0M268.0 172.7a2.8 2.8 0 1 0 5.6 0a2.8 2.8 0 1 0 -5.6 0M269.7 171.6a2.8 2.8 0 1 0 5.6 0a2.8 2.8 0 1 0 -5.6 0M271.8 169.3a2.8 2.8 0 1 0 5.6 0a2.8 2.8 0 1 0 -5.6 0M273.8 167.5a2.8 2.8 0 1 0 5.6 0a2.8 2.8 0 1 0 -5.6 0M275.8 165.6a2.8 2.8 0 1 0 5.6 0a2.8 2.8 0 1 0 -5.6 0M277.8 163.9a2.8 2.8 0 1 0 5.6 0a2.8 2.8 0 1 0 -5.6 0M279.8 163.0a2.8 2.8 0 1 0 5.6 0a2.8 2.8 0 1 0 -5.6 0M281.8 161.0a2.8 2.8 0 1 0 5.6 0a2.8 2.8 0 1 0 -5.6 0M283.6 158.9a2.8 2.8 0 1 0 5.6 0a2.8 2.8 0 1 0 -5.6 0M285.8 157.7a2.8 2.8 0 1 0 5.6 0a2.8 2.8 0 1 0 -5.6 0M287.7 156.5a2.8 2.8 0 1 0 5.6 0a2.8 2.8 0 1 0 -5.6 0M289.9 154.7a2.8 2.8 0 1 0 5.6 0a2.8 2.8 0 1 0 -5.6 0M292.1 154.0a2.8 2.8 0 1 0 5.6 0a2.8 2.8 0 1 0 -5.6 0M293.7 152.4a2.8 2.8 0 1 0 5.6 0a2.8 2.8 0 1 0 -5.6 0"/>
<path d="M30.7 254.8a2.8 2.8 0 1 0 5.6 0a2.8 2.8 0 1 0 -5.6 0M33.0 254.2a2.8 2.8 0 1 0 5.6 0a2.8 2.8 0 1 0 -5.6 0M34.7 255.0a2.8 2.8 0 1 0 5.6 0a2.8 2.8 0 1 0 -5.6 0M36.8 254.7a2.8 2.8 0 1 0 5.6 0a2.8 2.8 0 1 0 -5.6 0M38.9 254.1a2.8 2.8 0 1 0 5.6 0a2.8 2.8 0 1 0 -5.6 0M40.7 253.9a2.8 2.8 0 1 0 5.6 0a2.8 2.8 0 1 0 -5.6 0M42.8 253.5a2.8 2.8 0 1 0 5.6 0a2.8 2.8 0 1 0 -5.6 0M44.8 253.4a2.8 2.8 0 1 0 5.6 0a2.8 2.8 0 1 0 -5.6 0M46.7 252.9a2.8 2.8 0 1 0 5.6 0a2.8 2.8 0 1 0 -5.6 0M48.8 252.5a2.8 2.8 0 1 0 5.6 0a2.8 2.8 0 1 0 -5.6 0M50.8 252.5a2.8 2.8 0 1 0 5.6 0a2.8 2.8 0 1 0 -5.6 0M52.6 252.1a2.8 2.8 0 1 0 5.6 0a2.8 2.8 0 1 0 -5.6 0M55.0 251.8a2.8 2.8 0 1 0 5.6 0a2.8 2.8 0 1 0 -5.6 0M56.5 250.7a2.8 2.8 0 1 0 5.6 0a2.8 2.8 0 1 0 -5.6 0M58.8 250.2a2.8 2.8 0 1 0 5.6 0a2.8 2.8 0 1 0 -5.6 0M60.9 250.1a2.8 2.8 0 1 0 5.6 0a2.8 2.8 0 1 0 -5.6 0M62.8 249.6a2.8 2.8 0 1 0 5.6 0a2.8 2.8 0 1 0 -5.6 0M64.7 248.9a2.8 2.8 0 1 0 5.6 0a2.8 2.8 0 1 0 -5.6 0M66.6 248.4a2.8 2.8 0 1 0 5.6 0a2.8 2.8 0 1 0 -5.6 0M68.8 247.4a2.8 2.8 0 1 0 5.6 0a2.8 2.8 0 1 0 -5.6 0M70.6 247.3a2.8 2.8 0 1 0 5.6 0a2.8 2.8 0 1 0 -5.6 0M72.6 245.8a2.8 2.8 0 1 0 5.6 0a2.8 2.8 0 1 0 -5.6 0M74.7 245.5a2.8 2.8 0 1 0 5.6 0a2.8 2.8 0 1 0 -5.6 0M76.4 244.6a2.8 2.8 0 1 0 5.6 0a2.8 2.8 0 1 0 -5.6 0M78.9 243.7a2.8 2.8 0 1 0 5.6 0a2.8 2.8 0 1 0 -5.6 0M80.7 242.1a2.8 2.8 0 1 0 5.6 0a2.8 2.8 0 1 0 -5.6 0M82.7 241.8a2.8 2.8 0 1 0 5.6 0a2.8 2.8 0 1 0 -5.6 0M85.1 240.8a2.8 2.8 0 1 0 5.6 0a2.8 2.8 0 1 0 -5.6 0M86.7 239.8a2.8 2.8 0 1 0 5.6 0a2.8 2.8 0 1 0 -5.6 0M88.8 238.7a2.8 2.8 0 1 0 5.6 0a2.8 2.8 0 1 0 -5.6 0M90.7 238.1a2.8 2.8 0 1 0 5.6 0a2.8 2.8 0 1 0 -5.6 0M92.8 237.5a2.8 2.8 0 1 0 5.6 0a2.8 2.8 0 1 0 -5.6 0M94.5 236.5a2.8 2.8 0 1 0 5.6 0a2.8 2.8 0 1 0 -5.6 0M96.9 235.5a2.8 2.8 0 1 0 5.6 0a2.8 2.8 0 1 0 -5.6 0M98.9 235.4a2.8 2.8 0 1 0 5.6 0a2.8 2.8 0 1 0 -5.6 0M100.6 234.6a2.8 2.8 0 1 0 5.6 0a2.8 2.8 0 1 0 -5.6 0M102.7 233.8a2.8 2.8 0 1 0 5.6 0a2.8 2.8 0 1 0 -5.6 0M104.6 232.4a2.8 2.8 0 1 0 5.6 0a2.8 2.8 0 1 0 -5.6 0M106.8 232.1a2.8 2.8 0 1 0 5.6 0a2.8 2.8 0 1 0 -5.6 0M108.7 230.5a2.8 2.8 0 1 0 5.6 0a2.8 2.8 0 1 0 -5.6 0M110.9 228.9a2.8 2.8 0 1 0 5.6 0a2.8 2.8 0 1 0 -5.6 0M112.6 227.7a2.8 2.8 0 1 0 5.6 0a2.8 2.8 0 1 0 -5.6 0M114.6 226.3a2.8 2.8 0 1 0 5.6 0a2.8 2.8 0 1 0 -5.6 0M116.9 224.9a2.8 2.8 0 1 0 5.6 0a2.8 2.8 0 1 0 -5.6 0M118.9 223.3a2.8 2.8 0 1 0 5.6 0a2.8 2.8 0 1 0 -5.6 0M120.7 222.0a2.8 2.8 0 1 0 5.6 0a2.8 2.8 0 1 0 -5.6 0M122.7 220.6a2.8 2.8 0 1 0 5.6 0a2.8 2.8 0 1 0 -5.6 0M124.7 219.5a2.8 2.8 0 1 0 5.6 0a2.8 2.8 0 1 0 -5.6 0M126.6 217.9a2.8 2.8 0 1 0 5.6 0a2.8 2.8 0 1 0 -5.6 0M128.5 216.5a2.8 2.8 0 1 0 5.6 0a2.8 2.8 0 1 0 -5.6 0M130.8 215.2a2.8 2.8 0 1 0 5.6 0a2.8 2.8 0 1 0 -5.6 0M132.8 214.1a2.8 2.8 0 1 0 5.6 0a2.8 2.8 0 1 0 -5.6 0M134.8 213.1a2.8 2.8 0 1 0 5.6 0a2.8 2.8 0 1 0 -5.6 0M137.0 211.0a2.8 2.8 0 1 0 5.6 0a2.8 2.8 0 1 0 -5.6 0M138.9 209.4a2.8 2.8 0 1 0 5.6 0a2.8 2.8 0 1 0 -5.6 0M140.8 207.8a2.8 2.8 0 1 0 5.6 0a2.8 2.8 0 1 0 -5.6 0M142.9 206.1a2.8 2.8 0 1 0 5.6 0a2.8 2.8 0 1 0 -5.6 0M144.6 205.3a2.8 2.8 0 1 0 5.6 0a2.8 2.8 0 1 0 -5.6 0M146.8 204.7a2.8 2.8 0 1 0 5.6 0a2.8 2.8 0 1 0 -5.6 0M148.6 203.4a2.8 2.8 0 1 0 5.6 0a2.8 2.8 0 1 0 -5.6 0M150.7 202.7a2.8 2.8 0 1 0 5.6 0a2.8 2.8 0 1 0 -5.6 0M152.8 202.3a2.8 2.8 0 1 0 5.6 0a2.8 2.8 0 1 0 -5.6 0M154.6 201.4a2.8 2.8 0 1 0 5.6 0a2.8 2.8 0 1 0 -5.6 0M156.5 200.8a2.8 2.8 0 1 0 5.6 0a2.8 2.8 0 1 0 -5.6 0M158.7 200.2a2.8 2.8 0 1 0 5.6 0a2.8 2.8 0 1 0 -5.6 0M160.9 199.8a2.8 2.8 0 1 0 5.6 0a2.8 2.8 0 1 0 -5.6 0M162.8 198.6a2.8 2.8 0 1 0 5.6 0a2.8 2.8 0 1 0 -5.6 0M165.0 197.7a2.8 2.8 0 1 0 5.6 0a2.8 2.8 0 1 0 -5.6 0M166.8 196.7a2.8 2.8 0 1 0 5.6 0a2.8 2.8 0 1 0 -5.6 0M168.6 195.3a2.8 2.8 0 1 0 5.6 0a2.8 2.8 0 1 0 -5.6 0M170.7 194.3a2.8 2.8 0 1 0 5.6 0a2.8 2.8 0 1 0 -5.6 0M172.5 193.0a2.8 2.8 0 1 0 5.6 0a2.8 2.8 0 1 0 -5.6 0M174.6 191.7a2.8 2.8 0 1 0 5.6 0a2.8 2.8 0 1 0 -5.6 0M176.7 190.5a2.8 2.8 0 1 0 5.6 0a2.8 2.8 0 1 0 -5.6 0M178.5 188.8a2.8 2.8 0 1 0 5.6 0a2.8 2.8 0 1 0 -5.6 0M180.6 187.1a2.8 2.8 0 1 0 5.6 0a2.8 2.8 0 1 0 -5.6 0M182.7 185.4a2.8 2.8 0 1 0 5.6 0a2.8 2.8 0 1 0 -5.6 0M184.8 183.8a2.8 2.8 0 1 0 5.6 0a2.8 2.8 0 1 0 -5.6 0M186.8 182.6a2.8 2.8 0 1 0 5.6 0a2.8 2.8 0 1 0 -5.6 0M188.5 180.7a2.8 2.8 0 1 0 5.6 0a2.8 2.8 0 1 0 -5.6 0M190.7 179.0a2.8 2.8 0 1 0 5.6 0a2.8 2.8 0 1 0 -5.6 0M192.8 177.2a2.8 2.8 0 1 0 5.6 0a2.8 2.8 0 1 0 -5.6 0M194.7 176.2a2.8 2.8 0 1 0 5.6 0a2.8 2.8 0 1 0 -5.6 0M196.8 175.1a2.8 2.8 0 1 0 5.6 0a2.8 2.8 0 1 0 -5.6 0M198.6 173.4a2.8 2.8 0 1 0 5.6 0a2.8 2.8 0 1 0 -5.6 0M200.8 171.9a2.8 2.8 0 1 0 5.6 0a2.8 2.8 0 1 0 -5.6 0M202.9 170.1a2.8 2.8 0 1 0 5.6 0a2.8 2.8 0 1 0 -5.6 0M204.4 168.9a2.8 2.8 0 1 0 5.6 0a2.8 2.8 0 1 0 -5.6 0M206.5 167.3a2.8 2.8 0 1 0 5.6 0a2.8 2.8 0 1 0 -5.6 0M208.8 166.0a2.8 2.8 0 1 0 5.6 0a2.8 2.8 0 1 0 -5.6 0M210.6 163.9a2.8 2.8 0 1 0 5.6 0a2.8 2.8 0 1 0 -5.6 0M212.7 162.6a2.8 2.8 0 1 0 5.6 0a2.8 2.8 0 1 0 -5.6 0M214.8 161.4a2.8 2.8 0 1 0 5.6 0a2.8 2.8 0 1 0 -5.6 0M216.8 159.4a2.8 2.8 0 1 0 5.6 0a2.8 2.8 0 1 0 -5.6 0M218.8 157.3a2.8 2.8 0 1 0 5.6 0a2.8 2.8 0 1 0 -5.6 0M220.7 156.4a2.8 2.8 0 1 0 5.6 0a2.8 2.8 0 1 0 -5.6 0M222.8 154.4a2.8 2.8 0 1 0 5.6 0a2.8 2.8 0 1 0 -5.6 0M224.8 153.4a2.8 2.8 0 1 0 5.6 0a2.8 2.8 0 1 0 -5.6 0M226.9 151.0a2.8 2.8 0 1 0 5.6 0a2.8 2.8 0 1 0 -5.6 0M228.8 149.1a2.8 2.8 0 1 0 5.6 0a2.8 2.8 0 1 0 -5.6 0M230.9 147.7a2.8 2.8 0 1 0 5.6 0a2.8 2.8 0 1 0 -5.6 0M232.9 146.0a2.8 2.8 0 1 0 5.6 0a2.8 2.8 0 1 0 -5.6 0M234.5 144.5a2.8 2.8 0 1 0 5.6 0a2.8 2.8 0 1 0 -5.6 0M236.7 142.2a2.8 2.8 0 1 0 5.6 0a2.8 2.8 0 1 0 -5.6 0M238.7 141.3a2.8 2.8 0 1 0 5.6 0a2.8 2.8 0 1 0 -5.6 0M240.7 139.1a2.8 2.8 0 1 0 5.6 0a2.8 2.8 0 1 0 -5.6 0M242.8 137.4a2.8 2.8 0 1 0 5.6 0a2.8 2.8 0 1 0 -5.6 0M244.6 135.4a2.8 2.8 0 1 0 5.6 0a2.8 2.8 0 1 0 -5.6 0M246.9 133.7a2.8 2.8 0 1 0 5.6 0a2.8 2.8 0 1 0 -5.6 0M249.1 131.1a2.8 2.8 0 1 0 5.6 0a2.8 2.8 0 1 0 -5.6 0M250.7 129.7a2.8 2.8 0 1 0 5.6 0a2.8 2.8 0 1 0 -5.6 0M252.8 127.0a2.8 2.8 0 1 0 5.6 0a2.8 2.8 0 1 0 -5.6 0M254.6 125.5a2.8 2.8 0 1 0 5.6 0a2.8 2.8 0 1 0 -5.6 0M256.9 122.9a2.8 2.8 0 1 0 5.6 0a2.8 2.8 0 1 0 -5.6 0M258.7 121.1a2.8 2.8 0 1 0 5.6 0a2.8 2.8 0 1 0 -5.6 0M261.0 119.9a2.8 2.8 0 1 0 5.6 0a2.8 2.8 0 1 0 -5.6 0M262.7 117.4a2.8 2.8 0 1 0 5.6 0a2.8 2.8 0 1 0 -5.6 0M264.4 115.4a2.8 2.8 0 1 0 5.6 0a2.8 2.8 0 1 0 -5.6 0M266.6 113.3a2.8 2.8 0 1 0 5.6 0a2.8 2.8 0 1 0 -5.6 0M268.5 111.1a2.8 2.8 0 1 0 5.6 0a2.8 2.8 0 1 0 -5.6 0M270.7 109.6a2.8 2.8 0 1 0 5.6 0a2.8 2.8 0 1 0 -5.6 0M272.8 107.6a2.8 2.8 0 1 0 5.6 0a2.8 2.8 0 1 0 -5.6 0M274.5 105.5a2.8 2.8 0 1 0 5.6 0a2.8 2.8 0 1 0 -5.6 0M276.7 103.3a2.8 2.8 0 1 0 5.6 0a2.8 2.8 0 1 0 -5.6 0M278.7 101.9a2.8 2.8 0 1 0 5.6 0a2.8 2.8 0 1 0 -5.6 0M280.5 99.9a2.8 2.8 0 1 0 5.6 0a2.8 2.8 0 1 0 -5.6 0M282.6 97.6a2.8 2.8 0 1 0 5.6 0a2.8 2.8 0 1 0 -5.6 0M285.0 95.4a2.8 2.8 0 1 0 5.6 0a2.8 2.8 0 1 0 -5.6 0M286.6 93.9a2.8 2.8 0 1 0 5.6 0a2.8 2.8 0 1 0 -5.6 0M288.7 91.5a2.8 2.8 0 1 0 5.6 0a2.8 2.8 0 1 0 -5.6 0M290.8 89.3a2.8 2.8 0 1 0 5.6 0a2.8 2.8 0 1 0 -5.6 0M292.7 87.2a2.8 2.8 0 1 0 5.6 0a2.8 2.8 0 1 0 -5.6 0M294.7 85.2a2.8 2.8 0 1 0 5.6 0a2.8 2.8 0 1 0 -5.6 0M31.7 255.7a2.8 2.8 0 1 0 5.6 0a2.8 2.8 0 1 0 -5.6 0M33.8 255.8a2.8 2.8 0 1 0 5.6 0a2.8 2.8 0 1 0 -5.6 0M36.1 255.9a2.8 2.8 0 1 0 5.6 0a2.8 2.8 0 1 0 -5.6 0M37.8 255.9a2.8 2.8 0 1 0 5.6 0a2.8 2.8 0 1 0 -5.6 0M39.8 255.7a2.8 2.8 0 1 0 5.6 0a2.8 2.8 0 1 0 -5.6 0M42.0 255.7a2.8 2.8 0 1 0 5.6 0a2.8 2.8 0 1 0 -5.6 0M44.0 254.8a2.8 2.8 0 1 0 5.6 0a2.8 2.8 0 1 0 -5.6 0M45.5 255.1a2.8 2.8 0 1 0 5.6 0a2.8 2.8 0 1 0 -5.6 0M47.8 254.5a2.8 2.8 0 1 0 5.6 0a2.8 2.8 0 1 0 -5.6 0M49.7 254.0a2.8 2.8 0 1 0 5.6 0a2.8 2.8 0 1 0 -5.6 0M52.0 253.9a2.8 2.8 0 1 0 5.6 0a2.8 2.8 0 1 0 -5.6 0M54.3 253.8a2.8 2.8 0 1 0 5.6 0a2.8 2.8 0 1 0 -5.6 0M56.0 253.1a2.8 2.8 0 1 0 5.6 0a2.8 2.8 0 1 0 -5.6 0M57.9 252.6a2.8 2.8 0 1 0 5.6 0a2.8 2.8 0 1 0 -5.6 0M59.6 251.6a2.8 2.8 0 1 0 5.6 0a2.8 2.8 0 1 0 -5.6 0M62.0 251.0a2.8 2.8 0 1 0 5.6 0a2.8 2.8 0 1 0 -5.6 0M64.0 250.8a2.8 2.8 0 1 0 5.6 0a2.8 2.8 0 1 0 -5.6 0M65.7 249.7a2.8 2.8 0 1 0 5.6 0a2.8 2.8 0 1 0 -5.6 0M68.1 249.1a2.8 2.8 0 1 0 5.6 0a2.8 2.8 0 1 0 -5.6 0M69.9 247.8a2.8 2.8 0 1 0 5.6 0a2.8 2.8 0 1 0 -5.6 0M72.1 246.9a2.8 2.8 0 1 0 5.6 0a2.8 2.8 0 1 0 -5.6 0M73.9 246.3a2.8 2.8 0 1 0 5.6 0a2.8 2.8 0 1 0 -5.6 0M75.9 245.4a2.8 2.8 0 1 0 5.6 0a2.8 2.8 0 1 0 -5.6 0M77.7 244.2a2.8 2.8 0 1 0 5.6 0a2.8 2.8 0 1 0 -5.6 0M79.6 242.9a2.8 2.8 0 1 0 5.6 0a2.8 2.8 0 1 0 -5.6 0M82.2 242.3a2.8 2.8 0 1 0 5.6 0a2.8 2.8 0 1 0 -5.6 0M83.9 240.8a2.8 2.8 0 1 0 5.6 0a2.8 2.8 0 1 0 -5.6 0M85.7 240.4a2.8 2.8 0 1 0 5.6 0a2.8 2.8 0 1 0 -5.6 0M87.7 239.6a2.8 2.8 0 1 0 5.6 0a2.8 2.8 0 1 0 -5.6 0M89.8 239.1a2.8 2.8 0 1 0 5.6 0a2.8 2.8 0 1 0 -5.6 0M92.0 238.1a2.8 2.8 0 1 0 5.6 0a2.8 2.8 0 1 0 -5.6 0M93.6 237.3a2.8 2.8 0 1 0 5.6 0a2.8 2.8 0 1 0 -5.6 0M96.0 236.7a2.8 2.8 0 1 0 5.6 0a2.8 2.8 0 1 0 -5.6 0M97.9 236.1a2.8 2.8 0 1 0 5.6 0a2.8 2.8 0 1 0 -5.6 0M99.9 235.1a2.8 2.8 0 1 0 5.6 0a2.8 2.8 0 1 0 -5.6 0M101.9 234.8a2.8 2.8 0 1 0 5.6 0a2.8 2.8 0 1 0 -5.6 0M103.8 234.2a2.8 2.8 0 1 0 5.6 0a2.8 2.8 0 1 0 -5.6 0M105.6 232.5a2.8 2.8 0 1 0 5.6 0a2.8 2.8 0 1 0 -5.6 0M107.9 231.9a2.8 2.8 0 1 0 5.6 0a2.8 2.8 0 1 0 -5.6 0M109.9 230.6a2.8 2.8 0 1 0 5.6 0a2.8 2.8 0 1 0 -5.6 0M112.1 229.4a2.8 2.8 0 1 0 5.6 0a2.8 2.8 0 1 0 -5.6 0M113.9 227.6a2.8 2.8 0 1 0 5.6 0a2.8 2.8 0 1 0 -5.6 0M115.7 226.6a2.8 2.8 0 1 0 5.6 0a2.8 2.8 0 1 0 -5.6 0M118.1 225.4a2.8 2.8 0 1 0 5.6 0a2.8 2.8 0 1 0 -5.6 0M119.8 224.0a2.8 2.8 0 1 0 5.6 0a2.8 2.8 0 1 0 -5.6 0M121.7 222.7a2.8 2.8 0 1 0 5.6 0a2.8 2.8 0 1 0 -5.6 0M123.8 221.4a2.8 2.8 0 1 0 5.6 0a2.8 2.8 0 1 0 -5.6 0M125.8 220.2a2.8 2.8 0 1 0 5.6 0a2.8 2.8 0 1 0 -5.6 0M128.1 219.1a2.8 2.8 0 1 0 5.6 0a2.8 2.8 0 1 0 -5.6 0M130.0 217.5a2.8 2.8 0 1 0 5.6 0a2.8 2.8 0 1 0 -5.6 0M131.6 216.1a2.8 2.8 0 1 0 5.6 0a2.8 2.8 0 1 0 -5.6 0M133.9 215.4a2.8 2.8 0 1 0 5.6 0a2.8 2.8 0 1 0 -5.6 0M135.6 214.3a2.8 2.8 0 1 0 5.6 0a2.8 2.8 0 1 0 -5.6 0M137.9 212.9a2.8 2.8 0 1 0 5.6 0a2.8 2.8 0 1 0 -5.6 0M139.9 211.9a2.8 2.8 0 1 0 5.6 0a2.8 2.8 0 1 0 -5.6 0M141.7 210.5a2.8 2.8 0 1 0 5.6 0a2.8 2.8 0 1 0 -5.6 0M143.8 209.0a2.8 2.8 0 1 0 5.6 0a2.8 2.8 0 1 0 -5.6 0M145.7 208.1a2.8 2.8 0 1 0 5.6 0a2.8 2.8 0 1 0 -5.6 0M148.0 206.8a2.8 2.8 0 1 0 5.6 0a2.8 2.8 0 1 0 -5.6 0M149.9 206.6a2.8 2.8 0 1 0 5.6 0a2.8 2.8 0 1 0 -5.6 0M151.8 205.4a2.8 2.8 0 1 0 5.6 0a2.8 2.8 0 1 0 -5.6 0M154.0 204.8a2.8 2.8 0 1 0 5.6 0a2.8 2.8 0 1 0 -5.6 0M155.9 204.2a2.8 2.8 0 1 0 5.6 0a2.8 2.8 0 1 0 -5.6 0M157.8 202.7a2.8 2.8 0 1 0 5.6 0a2.8 2.8 0 1 0 -5.6 0M159.7 201.8a2.8 2.8 0 1 0 5.6 0a2.8 2.8 0 1 0 -5.6 0M162.0 201.4a2.8 2.8 0 1 0 5.6 0a2.8 2.8 0 1 0 -5.6 0M164.1 199.7a2.8 2.8 0 1 0 5.6 0a2.8 2.8 0 1 0 -5.6 0M165.7 198.8a2.8 2.8 0 1 0 5.6 0a2.8 2.8 0 1 0 -5.6 0M167.9 197.5a2.8 2.8 0 1 0 5.6 0a2.8 2.8 0 1 0 -5.6 0M169.6 195.8a2.8 2.8 0 1 0 5.6 0a2.8 2.8 0 1 0 -5.6 0M171.9 194.5a2.8 2.8 0 1 0 5.6 0a2.8 2.8 0 1 0 -5.6 0M174.0 192.3a2.8 2.8 0 1 0 5.6 0a2.8 2.8 0 1 0 -5.6 0M175.8 191.5a2.8 2.8 0 1 0 5.6 0a2.8 2.8 0 1 0 -5.6 0M177.8 189.8a2.8 2.8 0 1 0 5.6 0a2.8 2.8 0 1 0 -5.6 0M179.8 187.9a2.8 2.8 0 1 0 5.6 0a2.8 2.8 0 1 0 -5.6 0M181.7 186.7a2.8 2.8 0 1 0 5.6 0a2.8 2.8 0 1 0 -5.6 0M183.9 184.8a2.8 2.8 0 1 0 5.6 0a2.8 2.8 0 1 0 -5.6 0M185.8 182.9a2.8 2.8 0 1 0 5.6 0a2.8 2.8 0 1 0 -5.6 0M187.7 181.1a2.8 2.8 0 1 0 5.6 0a2.8 2.8 0 1 0 -5.6 0M189.9 179.9a2.8 2.8 0 1 0 5.6 0a2.8 2.8 0 1 0 -5.6 0M192.3 178.1a2.8 2.8 0 1 0 5.6 0a2.8 2.8 0 1 0 -5.6 0M193.9 176.7a2.8 2.8 0 1 0 5.6 0a2.8 2.8 0 1 0 -5.6 0M195.8 175.4a2.8 2.8 0 1 0 5.6 0a2.8 2.8 0 1 0 -5.6 0M197.8 174.3a2.8 2.8 0 1 0 5.6 0a2.8 2.8 0 1 0 -5.6 0M200.0 172.9a2.8 2.8 0 1 0 5.6 0a2.8 2.8 0 1 0 -5.6 0M202.0 171.0a2.8 2.8 0 1 0 5.6 0a2.8 2.8 0 1 0 -5.6 0M204.3 169.7a2.8 2.8 0 1 0 5.6 0a2.8 2.8 0 1 0 -5.6 0M205.7 168.4a2.8 2.8 0 1 0 5.6 0a2.8 2.8 0 1 0 -5.6 0M207.7 166.7a2.8 2.8 0 1 0 5.6 0a2.8 2.8 0 1 0 -5.6 0M209.7 165.6a2.8 2.8 0 1 0 5.6 0a2.8 2.8 0 1 0 -5.6 0M211.8 164.1a2.8 2.8 0 1 0 5.6 0a2.8 2.8 0 1 0 -5.6 0M214.1 163.0a2.8 2.8 0 1 0 5.6 0a2.8 2.8 0 1 0 -5.6 0M215.8 161.3a2.8 2.8 0 1 0 5.6 0a2.8 2.8 0 1 0 -5.6 0M217.6 160.1a2.8 2.8 0 1 0 5.6 0a2.8 2.8 0 1 0 -5.6 0M219.7 158.6a2.8 2.8 0 1 0 5.6 0a2.8 2.8 0 1 0 -5.6 0M221.8 157.6a2.8 2.8 0 1 0 5.6 0a2.8 2.8 0 1 0 -5.6 0M224.0 155.9a2.8 2.8 0 1 0 5.6 0a2.8 2.8 0 1 0 -5.6 0M225.8 154.6a2.8 2.8 0 1 0 5.6 0a2.8 2.8 0 1 0 -5.6 0M227.8 153.1a2.8 2.8 0 1 0 5.6 0a2.8 2.8 0 1 0 -5.6 0M229.9 151.6a2.8 2.8 0 1 0 5.6 0a2.8 2.8 0 1 0 -5.6 0M231.7 149.7a2.8 2.8 0 1 0 5.6 0a2.8 2.8 0 1 0 -5.6 0M233.9 148.5a2.8 2.8 0 1 0 5.6 0a2.8 2.8 0 1 0 -5.6 0M235.8 147.2a2.8 2.8 0 1 0 5.6 0a2.8 2.8 0 1 0 -5.6 0M237.8 144.9a2.8 2.8 0 1 0 5.6 0a2.8 2.8 0 1 0 -5.6 0M240.0 142.8a2.8 2.8 0 1 0 5.6 0a2.8 2.8 0 1 0 -5.6 0M241.9 140.4a2.8 2.8 0 1 0 5.6 0a2.8 2.8 0 1 0 -5.6 0M243.9 138.5a2.8 2.8 0 1 0 5.6 0a2.8 2.8 0 1 0 -5.6 0M246.0 136.4a2.8 2.8 0 1 0 5.6 0a2.8 2.8 0 1 0 -5.6 0M247.9 134.3a2.8 2.8 0 1 0 5.6 0a2.8 2.8 0 1 0 -5.6 0M249.7 131.9a2.8 2.8 0 1 0 5.6 0a2.8 2.8 0 1 0 -5.6 0M251.8 129.7a2.8 2.8 0 1 0 5.6 0a2.8 2.8 0 1 0 -5.6 0M253.8 127.9a2.8 2.8 0 1 0 5.6 0a2.8 2.8 0 1 0 -5.6 0M256.0 125.4a2.8 2.8 0 1 0 5.6 0a2.8 2.8 0 1 0 -5.6 0M257.8 123.4a2.8 2.8 0 1 0 5.6 0a2.8 2.8 0 1 0 -5.6 0M259.9 121.6a2.8 2.8 0 1 0 5.6 0a2.8 2.8 0 1 0 -5.6 0M261.7 119.1a2.8 2.8 0 1 0 5.6 0a2.8 2.8 0 1 0 -5.6 0M263.8 117.8a2.8 2.8 0 1 0 5.6 0a2.8 2.8 0 1 0 -5.6 0M265.8 115.7a2.8 2.8 0 1 0 5.6 0a2.8 2.8 0 1 0 -5.6 0M267.8 114.5a2.8 2.8 0 1 0 5.6 0a2.8 2.8 0 1 0 -5.6 0M270.0 112.6a2.8 2.8 0 1 0 5.6 0a2.8 2.8 0 1 0 -5.6 0M271.9 110.6a2.8 2.8 0 1 0 5.6 0a2.8 2.8 0 1 0 -5.6 0M273.8 108.8a2.8 2.8 0 1 0 5.6 0a2.8 2.8 0 1 0 -5.6 0M276.0 106.9a2.8 2.8 0 1 0 5.6 0a2.8 2.8 0 1 0 -5.6 0M277.8 105.4a2.8 2.8 0 1 0 5.6 0a2.8 2.8 0 1 0 -5.6 0M280.1 103.5a2.8 2.8 0 1 0 5.6 0a2.8 2.8 0 1 0 -5.6 0M281.9 102.2a2.8 2.8 0 1 0 5.6 0a2.8 2.8 0 1 0 -5.6 0M283.6 100.1a2.8 2.8 0 1 0 5.6 0a2.8 2.8 0 1 0 -5.6 0M285.9 98.7a2.8 2.8 0 1 0 5.6 0a2.8 2.8 0 1 0 -5.6 0M288.0 96.6a2.8 2.8 0 1 0 5.6 0a2.8 2.8 0 1 0 -5.6 0M289.7 95.4a2.8 2.8 0 1 0 5.6 0a2.8 2.8 0 1 0 -5.6 0M291.8 93.4a2.8 2.8 0 1 0 5.6 0a2.8 2.8 0 1 0 -5.6 0M293.9 91.9a2.8 2.8 0 1 0 5.6 0a2.8 2.8 0 1 0 -5.6 0M31.2 257.4a2.8 2.8 0 1 0 5.6 0a2.8 2.8 0 1 0 -5.6 0M33.4 257.3a2.8 2.8 0 1 0 5.6 0a2.8 2.8 0 1 0 -5.6 0M35.2 256.9a2.8 2.8 0 1 0 5.6 0a2.8 2.8 0 1 0 -5.6 0M37.3 257.0a2.8 2.8 0 1 0 5.6 0a2.8 2.8 0 1 0 -5.6 0M39.1 256.7a2.8 2.8 0 1 0 5.6 0a2.8 2.8 0 1 0 -5.6 0M41.1 256.7a2.8 2.8 0 1 0 5.6 0a2.8 2.8 0 1 0 -5.6 0M42.9 256.4a2.8 2.8 0 1 0 5.6 0a2.8 2.8 0 1 0 -5.6 0M45.0 256.4a2.8 2.8 0 1 0 5.6 0a2.8 2.8 0 1 0 -5.6 0M47.2 256.1a2.8 2.8 0 1 0 5.6 0a2.8 2.8 0 1 0 -5.6 0M49.5 256.2a2.8 2.8 0 1 0 5.6 0a2.8 2.8 0 1 0 -5.6 0M51.0 255.9a2.8 2.8 0 1 0 5.6 0a2.8 2.8 0 1 0 -5.6 0M53.1 255.6a2.8 2.8 0 1 0 5.6 0a2.8 2.8 0 1 0 -5.6 0M55.1 255.1a2.8 2.8 0 1 0 5.6 0a2.8 2.8 0 1 0 -5.6 0M57.1 254.1a2.8 2.8 0 1 0 5.6 0a2.8 2.8 0 1 0 -5.6 0M58.9 253.4a2.8 2.8 0 1 0 5.6 0a2.8 2.8 0 1 0 -5.6 0M61.2 252.5a2.8 2.8 0 1 0 5.6 0a2.8 2.8 0 1 0 -5.6 0M63.1 252.1a2.8 2.8 0 1 0 5.6 0a2.8 2.8 0 1 0 -5.6 0M65.3 250.7a2.8 2.8 0 1 0 5.6 0a2.8 2.8 0 1 0 -5.6 0M67.4 250.0a2.8 2.8 0 1 0 5.6 0a2.8 2.8 0 1 0 -5.6 0M69.2 249.1a2.8 2.8 0 1 0 5.6 0a2.8 2.8 0 1 0 -5.6 0M71.4 248.4a2.8 2.8 0 1 0 5.6 0a2.8 2.8 0 1 0 -5.6 0M73.2 247.0a2.8 2.8 0 1 0 5.6 0a2.8 2.8 0 1 0 -5.6 0M75.1 245.7a2.8 2.8 0 1 0 5.6 0a2.8 2.8 0 1 0 -5.6 0M77.1 244.8a2.8 2.8 0 1 0 5.6 0a2.8 2.8 0 1 0 -5.6 0M79.1 243.8a2.8 2.8 0 1 0 5.6 0a2.8 2.8 0 1 0 -5.6 0M81.2 242.9a2.8 2.8 0 1 0 5.6 0a2.8 2.8 0 1 0 -5.6 0M83.1 241.9a2.8 2.8 0 1 0 5.6 0a2.8 2.8 0 1 0 -5.6 0M85.4 240.6a2.8 2.8 0 1 0 5.6 0a2.8 2.8 0 1 0 -5.6 0M87.1 240.4a2.8 2.8 0 1 0 5.6 0a2.8 2.8 0 1 0 -5.6 0M88.9 239.4a2.8 2.8 0 1 0 5.6 0a2.8 2.8 0 1 0 -5.6 0M91.1 238.2a2.8 2.8 0 1 0 5.6 0a2.8 2.8 0 1 0 -5.6 0M93.0 238.3a2.8 2.8 0 1 0 5.6 0a2.8 2.8 0 1 0 -5.6 0M95.4 237.1a2.8 2.8 0 1 0 5.6 0a2.8 2.8 0 1 0 -5.6 0M97.3 236.2a2.8 2.8 0 1 0 5.6 0a2.8 2.8 0 1 0 -5.6 0M99.1 236.2a2.8 2.8 0 1 0 5.6 0a2.8 2.8 0 1 0 -5.6 0M101.6 235.4a2.8 2.8 0 1 0 5.6 0a2.8 2.8 0 1 0 -5.6 0M103.1 234.2a2.8 2.8 0 1 0 5.6 0a2.8 2.8 0 1 0 -5.6 0M105.1 233.5a2.8 2.8 0 1 0 5.6 0a2.8 2.8 0 1 0 -5.6 0M107.4 232.2a2.8 2.8 0 1 0 5.6 0a2.8 2.8 0 1 0 -5.6 0M108.9 231.4a2.8 2.8 0 1 0 5.6 0a2.8 2.8 0 1 0 -5.6 0M111.2 229.9a2.8 2.8 0 1 0 5.6 0a2.8 2.8 0 1 0 -5.6 0M113.0 228.9a2.8 2.8 0 1 0 5.6 0a2.8 2.8 0 1 0 -5.6 0M115.2 227.5a2.8 2.8 0 1 0 5.6 0a2.8 2.8 0 1 0 -5.6 0M117.2 226.4a2.8 2.8 0 1 0 5.6 0a2.8 2.8 0 1 0 -5.6 0M119.4 224.6a2.8 2.8 0 1 0 5.6 0a2.8 2.8 0 1 0 -5.6 0M121.4 224.0a2.8 2.8 0 1 0 5.6 0a2.8 2.8 0 1 0 -5.6 0M123.1 223.6a2.8 2.8 0 1 0 5.6 0a2.8 2.8 0 1 0 -5.6 0M125.3 221.5a2.8 2.8 0 1 0 5.6 0a2.8 2.8 0 1 0 -5.6 0M127.1 220.7a2.8 2.8 0 1 0 5.6 0a2.8 2.8 0 1 0 -5.6 0M129.4 219.5a2.8 2.8 0 1 0 5.6 0a2.8 2.8 0 1 0 -5.6 0M131.0 218.6a2.8 2.8 0 1 0 5.6 0a2.8 2.8 0 1 0 -5.6 0M133.0 217.5a2.8 2.8 0 1 0 5.6 0a2.8 2.8 0 1 0 -5.6 0M135.1 216.6a2.8 2.8 0 1 0 5.6 0a2.8 2.8 0 1 0 -5.6 0M137.3 215.2a2.8 2.8 0 1 0 5.6 0a2.8 2.8 0 1 0 -5.6 0M139.3 214.2a2.8 2.8 0 1 0 5.6 0a2.8 2.8 0 1 0 -5.6 0M141.1 213.6a2.8 2.8 0 1 0 5.6 0a2.8 2.8 0 1 0 -5.6 0M143.2 212.0a2.8 2.8 0 1 0 5.6 0a2.8 2.8 0 1 0 -5.6 0M145.2 211.3a2.8 2.8 0 1 0 5.6 0a2.8 2.8 0 1 0 -5.6 0M147.2 210.0a2.8 2.8 0 1 0 5.6 0a2.8 2.8 0 1 0 -5.6 0M149.3 209.1a2.8 2.8 0 1 0 5.6 0a2.8 2.8 0 1 0 -5.6 0M151.1 207.9a2.8 2.8 0 1 0 5.6 0a2.8 2.8 0 1 0 -5.6 0M153.1 207.1a2.8 2.8 0 1 0 5.6 0a2.8 2.8 0 1 0 -5.6 0M155.3 206.2a2.8 2.8 0 1 0 5.6 0a2.8 2.8 0 1 0 -5.6 0M157.1 205.2a2.8 2.8 0 1 0 5.6 0a2.8 2.8 0 1 0 -5.6 0M159.4 204.0a2.8 2.8 0 1 0 5.6 0a2.8 2.8 0 1 0 -5.6 0M161.0 203.3a2.8 2.8 0 1 0 5.6 0a2.8 2.8 0 1 0 -5.6 0M163.5 201.7a2.8 2.8 0 1 0 5.6 0a2.8 2.8 0 1 0 -5.6 0M165.2 200.9a2.8 2.8 0 1 0 5.6 0a2.8 2.8 0 1 0 -5.6 0M166.9 199.4a2.8 2.8 0 1 0 5.6 0a2.8 2.8 0 1 0 -5.6 0M169.3 197.6a2.8 2.8 0 1 0 5.6 0a2.8 2.8 0 1 0 -5.6 0M171.1 195.5a2.8 2.8 0 1 0 5.6 0a2.8 2.8 0 1 0 -5.6 0M173.3 194.5a2.8 2.8 0 1 0 5.6 0a2.8 2.8 0 1 0 -5.6 0M175.2 192.4a2.8 2.8 0 1 0 5.6 0a2.8 2.8 0 1 0 -5.6 0M177.1 191.2a2.8 2.8 0 1 0 5.6 0a2.8 2.8 0 1 0 -5.6 0M179.2 188.7a2.8 2.8 0 1 0 5.6 0a2.8 2.8 0 1 0 -5.6 0M181.4 187.1a2.8 2.8 0 1 0 5.6 0a2.8 2.8 0 1 0 -5.6 0M183.1 185.5a2.8 2.8 0 1 0 5.6 0a2.8 2.8 0 1 0 -5.6 0M185.1 184.3a2.8 2.8 0 1 0 5.6 0a2.8 2.8 0 1 0 -5.6 0M187.3 182.1a2.8 2.8 0 1 0 5.6 0a2.8 2.8 0 1 0 -5.6 0M189.2 180.6a2.8 2.8 0 1 0 5.6 0a2.8 2.8 0 1 0 -5.6 0M191.2 179.0a2.8 2.8 0 1 0 5.6 0a2.8 2.8 0 1 0 -5.6 0M193.1 177.0a2.8 2.8 0 1 0 5.6 0a2.8 2.8 0 1 0 -5.6 0M195.1 175.9a2.8 2.8 0 1 0 5.6 0a2.8 2.8 0 1 0 -5.6 0M197.1 174.5a2.8 2.8 0 1 0 5.6 0a2.8 2.8 0 1 0 -5.6 0M199.4 173.5a2.8 2.8 0 1 0 5.6 0a2.8 2.8 0 1 0 -5.6 0M201.2 171.3a2.8 2.8 0 1 0 5.6 0a2.8 2.8 0 1 0 -5.6 0M202.8 170.4a2.8 2.8 0 1 0 5.6 0a2.8 2.8 0 1 0 -5.6 0M205.1 169.5a2.8 2.8 0 1 0 5.6 0a2.8 2.8 0 1 0 -5.6 0M207.1 168.1a2.8 2.8 0 1 0 5.6 0a2.8 2.8 0 1 0 -5.6 0M209.4 167.3a2.8 2.8 0 1 0 5.6 0a2.8 2.8 0 1 0 -5.6 0M211.3 165.9a2.8 2.8 0 1 0 5.6 0a2.8 2.8 0 1 0 -5.6 0M213.2 164.6a2.8 2.8 0 1 0 5.6 0a2.8 2.8 0 1 0 -5.6 0M215.2 163.2a2.8 2.8 0 1 0 5.6 0a2.8 2.8 0 1 0 -5.6 0M217.2 162.0a2.8 2.8 0 1 0 5.6 0a2.8 2.8 0 1 0 -5.6 0M219.2 161.2a2.8 2.8 0 1 0 5.6 0a2.8 2.8 0 1 0 -5.6 0M221.6 160.0a2.8 2.8 0 1 0 5.6 0a2.8 2.8 0 1 0 -5.6 0M223.2 157.9a2.8 2.8 0 1 0 5.6 0a2.8 2.8 0 1 0 -5.6 0M225.1 156.9a2.8 2.8 0 1 0 5.6 0a2.8 2.8 0 1 0 -5.6 0M227.2 155.3a2.8 2.8 0 1 0 5.6 0a2.8 2.8 0 1 0 -5.6 0M229.1 154.1a2.8 2.8 0 1 0 5.6 0a2.8 2.8 0 1 0 -5.6 0M231.1 152.6a2.8 2.8 0 1 0 5.6 0a2.8 2.8 0 1 0 -5.6 0M233.3 150.5a2.8 2.8 0 1 0 5.6 0a2.8 2.8 0 1 0 -5.6 0M235.0 149.4a2.8 2.8 0 1 0 5.6 0a2.8 2.8 0 1 0 -5.6 0M237.1 147.8a2.8 2.8 0 1 0 5.6 0a2.8 2.8 0 1 0 -5.6 0M239.3 145.2a2.8 2.8 0 1 0 5.6 0a2.8 2.8 0 1 0 -5.6 0M241.1 143.1a2.8 2.8 0 1 0 5.6 0a2.8 2.8 0 1 0 -5.6 0M243.4 141.2a2.8 2.8 0 1 0 5.6 0a2.8 2.8 0 1 0 -5.6 0M245.2 139.0a2.8 2.8 0 1 0 5.6 0a2.8 2.8 0 1 0 -5.6 0M247.1 136.1a2.8 2.8 0 1 0 5.6 0a2.8 2.8 0 1 0 -5.6 0M249.4 134.3a2.8 2.8 0 1 0 5.6 0a2.8 2.8 0 1 0 -5.6 0M251.1 132.0a2.8 2.8 0 1 0 5.6 0a2.8 2.8 0 1 0 -5.6 0M253.1 130.0a2.8 2.8 0 1 0 5.6 0a2.8 2.8 0 1 0 -5.6 0M255.1 127.5a2.8 2.8 0 1 0 5.6 0a2.8 2.8 0 1 0 -5.6 0M257.2 125.7a2.8 2.8 0 1 0 5.6 0a2.8 2.8 0 1 0 -5.6 0M259.4 123.8a2.8 2.8 0 1 0 5.6 0a2.8 2.8 0 1 0 -5.6 0M260.8 121.8a2.8 2.8 0 1 0 5.6 0a2.8 2.8 0 1 0 -5.6 0M263.2 119.4a2.8 2.8 0 1 0 5.6 0a2.8 2.8 0 1 0 -5.6 0M265.5 118.0a2.8 2.8 0 1 0 5.6 0a2.8 2.8 0 1 0 -5.6 0M267.1 116.3a2.8 2.8 0 1 0 5.6 0a2.8 2.8 0 1 0 -5.6 0M269.3 114.9a2.8 2.8 0 1 0 5.6 0a2.8 2.8 0 1 0 -5.6 0M271.2 113.0a2.8 2.8 0 1 0 5.6 0a2.8 2.8 0 1 0 -5.6 0M273.0 111.2a2.8 2.8 0 1 0 5.6 0a2.8 2.8 0 1 0 -5.6 0M275.0 110.2a2.8 2.8 0 1 0 5.6 0a2.8 2.8 0 1 0 -5.6 0M277.3 108.6a2.8 2.8 0 1 0 5.6 0a2.8 2.8 0 1 0 -5.6 0M279.3 107.0a2.8 2.8 0 1 0 5.6 0a2.8 2.8 0 1 0 -5.6 0M280.9 105.5a2.8 2.8 0 1 0 5.6 0a2.8 2.8 0 1 0 -5.6 0M283.1 103.6a2.8 2.8 0 1 0 5.6 0a2.8 2.8 0 1 0 -5.6 0M285.0 102.6a2.8 2.8 0 1 0 5.6 0a2.8 2.8 0 1 0 -5.6 0M287.1 100.8a2.8 2.8 0 1 0 5.6 0a2.8 2.8 0 1 0 -5.6 0M289.0 99.9a2.8 2.8 0 1 0 5.6 0a2.8 2.8 0 1 0 -5.6 0M291.3 97.9a2.8 2.8 0 1 0 5.6 0a2.8 2.8 0 1 0 -5.6 0M293.2 96.3a2.8 2.8 0 1 0 5.6 0a2.8 2.8 0 1 0 -5.6 0M294.9 95.4a2.8 2.8 0 1 0 5.6 0a2.8 2.8 0 1 0 -5.6 0"/>
<path d="M30.7 254.4a2.8 2.8 0 1 0 5.6 0a2.8 2.8 0 1 0 -5.6 0M32.3 254.7a2.8 2.8 0 1 0 5.6 0a2.8 2.8 0 1 0 -5.6 0M34.1 254.7a2.8 2.8 0 1 0 5.6 0a2.8 2.8 0 1 0 -5.6 0M36.2 254.5a2.8 2.8 0 1 0 5.6 0a2.8 2.8 0 1 0 -5.6 0M38.4 255.2a2.8 2.8 0 1 0 5.6 0a2.8 2.8 0 1 0 -5.6 0M40.3 254.0a2.8 2.8 0 1 0 5.6 0a2.8 2.8 0 1 0 -5.6 0M42.2 253.6a2.8 2.8 0 1 0 5.6 0a2.8 2.8 0 1 0 -5.6 0M44.4 253.4a2.8 2.8 0 1 0 5.6 0a2.8 2.8 0 1 0 -5.6 0M46.5 253.1a2.8 2.8 0 1 0 5.6 0a2.8 2.8 0 1 0 -5.6 0M48.4 252.8a2.8 2.8 0 1 0 5.6 0a2.8 2.8 0 1 0 -5.6 0M50.5 252.9a2.8 2.8 0 1 0 5.6 0a2.8 2.8 0 1 0 -5.6 0M52.3 251.9a2.8 2.8 0 1 0 5.6 0a2.8 2.8 0 1 0 -5.6 0M54.7 251.8a2.8 2.8 0 1 0 5.6 0a2.8 2.8 0 1 0 -5.6 0M56.3 251.0a2.8 2.8 0 1 0 5.6 0a2.8 2.8 0 1 0 -5.6 0M58.2 250.8a2.8 2.8 0 1 0 5.6 0a2.8 2.8 0 1 0 -5.6 0M60.5 249.9a2.8 2.8 0 1 0 5.6 0a2.8 2.8 0 1 0 -5.6 0M62.4 249.4a2.8 2.8 0 1 0 5.6 0a2.8 2.8 0 1 0 -5.6 0M63.9 248.8a2.8 2.8 0 1 0 5.6 0a2.8 2.8 0 1 0 -5.6 0M66.2 248.1a2.8 2.8 0 1 0 5.6 0a2.8 2.8 0 1 0 -5.6 0M68.4 246.8a2.8 2.8 0 1 0 5.6 0a2.8 2.8 0 1 0 -5.6 0M70.3 246.6a2.8 2.8 0 1 0 5.6 0a2.8 2.8 0 1 0 -5.6 0M72.4 245.4a2.8 2.8 0 1 0 5.6 0a2.8 2.8 0 1 0 -5.6 0M74.6 244.8a2.8 2.8 0 1 0 5.6 0a2.8 2.8 0 1 0 -5.6 0M76.4 244.0a2.8 2.8 0 1 0 5.6 0a2.8 2.8 0 1 0 -5.6 0M78.3 243.1a2.8 2.8 0 1 0 5.6 0a2.8 2.8 0 1 0 -5.6 0M80.5 241.6a2.8 2.8 0 1 0 5.6 0a2.8 2.8 0 1 0 -5.6 0M82.3 240.8a2.8 2.8 0 1 0 5.6 0a2.8 2.8 0 1 0 -5.6 0M84.4 239.4a2.8 2.8 0 1 0 5.6 0a2.8 2.8 0 1 0 -5.6 0M86.5 238.0a2.8 2.8 0 1 0 5.6 0a2.8 2.8 0 1 0 -5.6 0M88.1 237.8a2.8 2.8 0 1 0 5.6 0a2.8 2.8 0 1 0 -5.6 0M90.2 236.9a2.8 2.8 0 1 0 5.6 0a2.8 2.8 0 1 0 -5.6 0M92.1 236.3a2.8 2.8 0 1 0 5.6 0a2.8 2.8 0 1 0 -5.6 0M94.5 235.1a2.8 2.8 0 1 0 5.6 0a2.8 2.8 0 1 0 -5.6 0M96.0 234.8a2.8 2.8 0 1 0 5.6 0a2.8 2.8 0 1 0 -5.6 0M98.4 233.6a2.8 2.8 0 1 0 5.6 0a2.8 2.8 0 1 0 -5.6 0M100.6 232.7a2.8 2.8 0 1 0 5.6 0a2.8 2.8 0 1 0 -5.6 0M102.4 231.6a2.8 2.8 0 1 0 5.6 0a2.8 2.8 0 1 0 -5.6 0M104.6 230.6a2.8 2.8 0 1 0 5.6 0a2.8 2.8 0 1 0 -5.6 0M106.3 229.5a2.8 2.8 0 1 0 5.6 0a2.8 2.8 0 1 0 -5.6 0M108.6 227.7a2.8 2.8 0 1 0 5.6 0a2.8 2.8 0 1 0 -5.6 0M110.5 226.8a2.8 2.8 0 1 0 5.6 0a2.8 2.8 0 1 0 -5.6 0M112.4 225.3a2.8 2.8 0 1 0 5.6 0a2.8 2.8 0 1 0 -5.6 0M114.3 223.3a2.8 2.8 0 1 0 5.6 0a2.8 2.8 0 1 0 -5.6 0M116.6 221.7a2.8 2.8 0 1 0 5.6 0a2.8 2.8 0 1 0 -5.6 0M118.3 220.0a2.8 2.8 0 1 0 5.6 0a2.8 2.8 0 1 0 -5.6 0M120.4 218.8a2.8 2.8 0 1 0 5.6 0a2.8 2.8 0 1 0 -5.6 0M122.2 217.6a2.8 2.8 0 1 0 5.6 0a2.8 2.8 0 1 0 -5.6 0M124.4 215.7a2.8 2.8 0 1 0 5.6 0a2.8 2.8 0 1 0 -5.6 0M126.5 215.0a2.8 2.8 0 1 0 5.6 0a2.8 2.8 0 1 0 -5.6 0M128.3 213.4a2.8 2.8 0 1 0 5.6 0a2.8 2.8 0 1 0 -5.6 0M130.3 212.1a2.8 2.8 0 1 0 5.6 0a2.8 2.8 0 1 0 -5.6 0M132.3 210.8a2.8 2.8 0 1 0 5.6 0a2.8 2.8 0 1 0 -5.6 0M134.4 209.3a2.8 2.8 0 1 0 5.6 0a2.8 2.8 0 1 0 -5.6 0M136.4 208.0a2.8 2.8 0 1 0 5.6 0a2.8 2.8 0 1 0 -5.6 0M138.6 207.2a2.8 2.8 0 1 0 5.6 0a2.8 2.8 0 1 0 -5.6 0M140.1 205.6a2.8 2.8 0 1 0 5.6 0a2.8 2.8 0 1 0 -5.6 0M142.3 203.7a2.8 2.8 0 1 0 5.6 0a2.8 2.8 0 1 0 -5.6 0M144.0 202.5a2.8 2.8 0 1 0 5.6 0a2.8 2.8 0 1 0 -5.6 0M146.5 201.2a2.8 2.8 0 1 0 5.6 0a2.8 2.8 0 1 0 -5.6 0M148.2 198.9a2.8 2.8 0 1 0 5.6 0a2.8 2.8 0 1 0 -5.6 0M150.4 197.3a2.8 2.8 0 1 0 5.6 0a2.8 2.8 0 1 0 -5.6 0M152.7 195.8a2.8 2.8 0 1 0 5.6 0a2.8 2.8 0 1 0 -5.6 0M154.5 193.7a2.8 2.8 0 1 0 5.6 0a2.8 2.8 0 1 0 -5.6 0M156.6 191.8a2.8 2.8 0 1 0 5.6 0a2.8 2.8 0 1 0 -5.6 0M158.6 190.0a2.8 2.8 0 1 0 5.6 0a2.8 2.8 0 1 0 -5.6 0M160.3 187.5a2.8 2.8 0 1 0 5.6 0a2.8 2.8 0 1 0 -5.6 0M162.6 185.6a2.8 2.8 0 1 0 5.6 0a2.8 2.8 0 1 0 -5.6 0M164.3 184.0a2.8 2.8 0 1 0 5.6 0a2.8 2.8 0 1 0 -5.6 0M166.4 181.7a2.8 2.8 0 1 0 5.6 0a2.8 2.8 0 1 0 -5.6 0M168.2 179.6a2.8 2.8 0 1 0 5.6 0a2.8 2.8 0 1 0 -5.6 0M170.7 177.9a2.8 2.8 0 1 0 5.6 0a2.8 2.8 0 1 0 -5.6 0M172.3 175.7a2.8 2.8 0 1 0 5.6 0a2.8 2.8 0 1 0 -5.6 0M174.2 173.3a2.8 2.8 0 1 0 5.6 0a2.8 2.8 0 1 0 -5.6 0M176.5 171.7a2.8 2.8 0 1 0 5.6 0a2.8 2.8 0 1 0 -5.6 0M178.4 169.4a2.8 2.8 0 1 0 5.6 0a2.8 2.8 0 1 0 -5.6 0M180.4 167.3a2.8 2.8 0 1 0 5.6 0a2.8 2.8 0 1 0 -5.6 0M182.3 164.8a2.8 2.8 0 1 0 5.6 0a2.8 2.8 0 1 0 -5.6 0M184.3 163.1a2.8 2.8 0 1 0 5.6 0a2.8 2.8 0 1 0 -5.6 0M186.2 160.8a2.8 2.8 0 1 0 5.6 0a2.8 2.8 0 1 0 -5.6 0M188.5 158.7a2.8 2.8 0 1 0 5.6 0a2.8 2.8 0 1 0 -5.6 0M190.3 156.5a2.8 2.8 0 1 0 5.6 0a2.8 2.8 0 1 0 -5.6 0M192.5 154.6a2.8 2.8 0 1 0 5.6 0a2.8 2.8 0 1 0 -5.6 0M194.1 152.6a2.8 2.8 0 1 0 5.6 0a2.8 2.8 0 1 0 -5.6 0M196.3 150.2a2.8 2.8 0 1 0 5.6 0a2.8 2.8 0 1 0 -5.6 0M198.5 147.7a2.8 2.8 0 1 0 5.6 0a2.8 2.8 0 1 0 -5.6 0M200.5 145.7a2.8 2.8 0 1 0 5.6 0a2.8 2.8 0 1 0 -5.6 0M202.6 143.3a2.8 2.8 0 1 0 5.6 0a2.8 2.8 0 1 0 -5.6 0M204.4 140.9a2.8 2.8 0 1 0 5.6 0a2.8 2.8 0 1 0 -5.6 0M206.3 138.9a2.8 2.8 0 1 0 5.6 0a2.8 2.8 0 1 0 -5.6 0M208.5 137.0a2.8 2.8 0 1 0 5.6 0a2.8 2.8 0 1 0 -5.6 0M210.4 134.7a2.8 2.8 0 1 0 5.6 0a2.8 2.8 0 1 0 -5.6 0M212.4 131.8a2.8 2.8 0 1 0 5.6 0a2.8 2.8 0 1 0 -5.6 0M214.3 129.9a2.8 2.8 0 1 0 5.6 0a2.8 2.8 0 1 0 -5.6 0M216.4 127.6a2.8 2.8 0 1 0 5.6 0a2.8 2.8 0 1 0 -5.6 0M218.3 125.7a2.8 2.8 0 1 0 5.6 0a2.8 2.8 0 1 0 -5.6 0M220.3 123.3a2.8 2.8 0 1 0 5.6 0a2.8 2.8 0 1 0 -5.6 0M222.3 120.6a2.8 2.8 0 1 0 5.6 0a2.8 2.8 0 1 0 -5.6 0M224.4 118.3a2.8 2.8 0 1 0 5.6 0a2.8 2.8 0 1 0 -5.6 0M226.4 116.6a2.8 2.8 0 1 0 5.6 0a2.8 2.8 0 1 0 -5.6 0M228.6 114.2a2.8 2.8 0 1 0 5.6 0a2.8 2.8 0 1 0 -5.6 0M230.4 111.8a2.8 2.8 0 1 0 5.6 0a2.8 2.8 0 1 0 -5.6 0M232.1 109.4a2.8 2.8 0 1 0 5.6 0a2.8 2.8 0 1 0 -5.6 0M234.1 107.3a2.8 2.8 0 1 0 5.6 0a2.8 2.8 0 1 0 -5.6 0M236.4 104.9a2.8 2.8 0 1 0 5.6 0a2.8 2.8 0 1 0 -5.6 0M238.4 102.5a2.8 2.8 0 1 0 5.6 0a2.8 2.8 0 1 0 -5.6 0M240.4 99.6a2.8 2.8 0 1 0 5.6 0a2.8 2.8 0 1 0 -5.6 0M242.3 97.1a2.8 2.8 0 1 0 5.6 0a2.8 2.8 0 1 0 -5.6 0M244.4 94.8a2.8 2.8 0 1 0 5.6 0a2.8 2.8 0 1 0 -5.6 0M246.2 92.1a2.8 2.8 0 1 0 5.6 0a2.8 2.8 0 1 0 -5.6 0M248.1 89.2a2.8 2.8 0 1 0 5.6 0a2.8 2.8 0 1 0 -5.6 0M250.2 86.0a2.8 2.8 0 1 0 5.6 0a2.8 2.8 0 1 0 -5.6 0M252.6 82.5a2.8 2.8 0 1 0 5.6 0a2.8 2.8 0 1 0 -5.6 0M254.4 77.5a2.8 2.8 0 1 0 5.6 0a2.8 2.8 0 1 0 -5.6 0M256.2 73.8a2.8 2.8 0 1 0 5.6 0a2.8 2.8 0 1 0 -5.6 0M258.3 69.9a2.8 2.8 0 1 0 5.6 0a2.8 2.8 0 1 0 -5.6 0M260.3 65.8a2.8 2.8 0 1 0 5.6 0a2.8 2.8 0 1 0 -5.6 0M262.4 63.4a2.8 2.8 0 1 0 5.6 0a2.8 2.8 0 1 0 -5.6 0M264.5 60.9a2.8 2.8 0 1 0 5.6 0a2.8 2.8 0 1 0 -5.6 0M266.2 59.2a2.8 2.8 0 1 0 5.6 0a2.8 2.8 0 1 0 -5.6 0M268.4 56.3a2.8 2.8 0 1 0 5.6 0a2.8 2.8 0 1 0 -5.6 0M270.6 53.4a2.8 2.8 0 1 0 5.6 0a2.8 2.8 0 1 0 -5.6 0M272.2 50.5a2.8 2.8 0 1 0 5.6 0a2.8 2.8 0 1 0 -5.6 0M274.4 47.2a2.8 2.8 0 1 0 5.6 0a2.8 2.8 0 1 0 -5.6 0M276.3 44.8a2.8 2.8 0 1 0 5.6 0a2.8 2.8 0 1 0 -5.6 0M278.4 41.3a2.8 2.8 0 1 0 5.6 0a2.8 2.8 0 1 0 -5.6 0M280.7 38.2a2.8 2.8 0 1 0 5.6 0a2.8 2.8 0 1 0 -5.6 0M282.5 35.1a2.8 2.8 0 1 0 5.6 0a2.8 2.8 0 1 0 -5.6 0M284.5 32.2a2.8 2.8 0 1 0 5.6 0a2.8 2.8 0 1 0 -5.6 0M286.6 28.9a2.8 2.8 0 1 0 5.6 0a2.8 2.8 0 1 0 -5.6 0M288.4 26.3a2.8 2.8 0 1 0 5.6 0a2.8 2.8 0 1 0 -5.6 0M290.3 23.3a2.8 2.8 0 1 0 5.6 0a2.8 2.8 0 1 0 -5.6 0M292.5 20.8a2.8 2.8 0 1 0 5.6 0a2.8 2.8 0 1 0 -5.6 0M294.6 17.9a2.8 2.8 0 1 0 5.6 0a2.8 2.8 0 1 0 -5.6 0M30.7 256.1a2.8 2.8 0 1 0 5.6 0a2.8 2.8 0 1 0 -5.6 0M32.6 256.2a2.8 2.8 0 1 0 5.6 0a2.8 2.8 0 1 0 -5.6 0M34.8 256.1a2.8 2.8 0 1 0 5.6 0a2.8 2.8 0 1 0 -5.6 0M36.5 255.8a2.8 2.8 0 1 0 5.6 0a2.8 2.8 0 1 0 -5.6 0M38.9 255.8a2.8 2.8 0 1 0 5.6 0a2.8 2.8 0 1 0 -5.6 0M40.6 255.4a2.8 2.8 0 1 0 5.6 0a2.8 2.8 0 1 0 -5.6 0M42.8 255.2a2.8 2.8 0 1 0 5.6 0a2.8 2.8 0 1 0 -5.6 0M44.6 254.5a2.8 2.8 0 1 0 5.6 0a2.8 2.8 0 1 0 -5.6 0M46.5 255.0a2.8 2.8 0 1 0 5.6 0a2.8 2.8 0 1 0 -5.6 0M48.7 254.8a2.8 2.8 0 1 0 5.6 0a2.8 2.8 0 1 0 -5.6 0M50.6 254.0a2.8 2.8 0 1 0 5.6 0a2.8 2.8 0 1 0 -5.6 0M52.5 253.3a2.8 2.8 0 1 0 5.6 0a2.8 2.8 0 1 0 -5.6 0M54.4 253.7a2.8 2.8 0 1 0 5.6 0a2.8 2.8 0 1 0 -5.6 0M56.6 253.1a2.8 2.8 0 1 0 5.6 0a2.8 2.8 0 1 0 -5.6 0M58.6 252.1a2.8 2.8 0 1 0 5.6 0a2.8 2.8 0 1 0 -5.6 0M60.5 250.6a2.8 2.8 0 1 0 5.6 0a2.8 2.8 0 1 0 -5.6 0M62.4 250.4a2.8 2.8 0 1 0 5.6 0a2.8 2.8 0 1 0 -5.6 0M64.6 249.1a2.8 2.8 0 1 0 5.6 0a2.8 2.8 0 1 0 -5.6 0M66.3 248.4a2.8 2.8 0 1 0 5.6 0a2.8 2.8 0 1 0 -5.6 0M68.7 247.6a2.8 2.8 0 1 0 5.6 0a2.8 2.8 0 1 0 -5.6 0M70.7 246.8a2.8 2.8 0 1 0 5.6 0a2.8 2.8 0 1 0 -5.6 0M72.6 246.3a2.8 2.8 0 1 0 5.6 0a2.8 2.8 0 1 0 -5.6 0M74.4 244.7a2.8 2.8 0 1 0 5.6 0a2.8 2.8 0 1 0 -5.6 0M76.7 243.9a2.8 2.8 0 1 0 5.6 0a2.8 2.8 0 1 0 -5.6 0M78.7 242.9a2.8 2.8 0 1 0 5.6 0a2.8 2.8 0 1 0 -5.6 0M80.6 241.6a2.8 2.8 0 1 0 5.6 0a2.8 2.8 0 1 0 -5.6 0M82.5 240.5a2.8 2.8 0 1 0 5.6 0a2.8 2.8 0 1 0 -5.6 0M84.3 239.2a2.8 2.8 0 1 0 5.6 0a2.8 2.8 0 1 0 -5.6 0M86.4 238.4a2.8 2.8 0 1 0 5.6 0a2.8 2.8 0 1 0 -5.6 0M88.7 237.4a2.8 2.8 0 1 0 5.6 0a2.8 2.8 0 1 0 -5.6 0M91.0 236.8a2.8 2.8 0 1 0 5.6 0a2.8 2.8 0 1 0 -5.6 0M92.5 236.2a2.8 2.8 0 1 0 5.6 0a2.8 2.8 0 1 0 -5.6 0M94.6 235.4a2.8 2.8 0 1 0 5.6 0a2.8 2.8 0 1 0 -5.6 0M96.7 234.3a2.8 2.8 0 1 0 5.6 0a2.8 2.8 0 1 0 -5.6 0M98.1 233.5a2.8 2.8 0 1 0 5.6 0a2.8 2.8 0 1 0 -5.6 0M100.5 233.0a2.8 2.8 0 1 0 5.6 0a2.8 2.8 0 1 0 -5.6 0M102.5 232.2a2.8 2.8 0 1 0 5.6 0a2.8 2.8 0 1 0 -5.6 0M104.8 230.4a2.8 2.8 0 1 0 5.6 0a2.8 2.8 0 1 0 -5.6 0M106.6 229.2a2.8 2.8 0 1 0 5.6 0a2.8 2.8 0 1 0 -5.6 0M108.6 228.5a2.8 2.8 0 1 0 5.6 0a2.8 2.8 0 1 0 -5.6 0M110.6 226.7a2.8 2.8 0 1 0 5.6 0a2.8 2.8 0 1 0 -5.6 0M112.5 225.4a2.8 2.8 0 1 0 5.6 0a2.8 2.8 0 1 0 -5.6 0M114.7 223.8a2.8 2.8 0 1 0 5.6 0a2.8 2.8 0 1 0 -5.6 0M116.5 222.7a2.8 2.8 0 1 0 5.6 0a2.8 2.8 0 1 0 -5.6 0M118.7 220.4a2.8 2.8 0 1 0 5.6 0a2.8 2.8 0 1 0 -5.6 0M120.6 219.2a2.8 2.8 0 1 0 5.6 0a2.8 2.8 0 1 0 -5.6 0M122.8 218.0a2.8 2.8 0 1 0 5.6 0a2.8 2.8 0 1 0 -5.6 0M124.6 216.5a2.8 2.8 0 1 0 5.6 0a2.8 2.8 0 1 0 -5.6 0M126.4 214.7a2.8 2.8 0 1 0 5.6 0a2.8 2.8 0 1 0 -5.6 0M128.5 214.5a2.8 2.8 0 1 0 5.6 0a2.8 2.8 0 1 0 -5.6 0M130.4 212.7a2.8 2.8 0 1 0 5.6 0a2.8 2.8 0 1 0 -5.6 0M132.6 211.7a2.8 2.8 0 1 0 5.6 0a2.8 2.8 0 1 0 -5.6 0M134.7 209.9a2.8 2.8 0 1 0 5.6 0a2.8 2.8 0 1 0 -5.6 0M136.7 208.9a2.8 2.8 0 1 0 5.6 0a2.8 2.8 0 1 0 -5.6 0M138.8 207.2a2.8 2.8 0 1 0 5.6 0a2.8 2.8 0 1 0 -5.6 0M140.6 206.0a2.8 2.8 0 1 0 5.6 0a2.8 2.8 0 1 0 -5.6 0M142.5 204.3a2.8 2.8 0 1 0 5.6 0a2.8 2.8 0 1 0 -5.6 0M144.5 203.2a2.8 2.8 0 1 0 5.6 0a2.8 2.8 0 1 0 -5.6 0M146.7 201.8a2.8 2.8 0 1 0 5.6 0a2.8 2.8 0 1 0 -5.6 0M148.7 200.5a2.8 2.8 0 1 0 5.6 0a2.8 2.8 0 1 0 -5.6 0M150.3 198.9a2.8 2.8 0 1 0 5.6 0a2.8 2.8 0 1 0 -5.6 0M152.7 197.6a2.8 2.8 0 1 0 5.6 0a2.8 2.8 0 1 0 -5.6 0M154.7 196.3a2.8 2.8 0 1 0 5.6 0a2.8 2.8 0 1 0 -5.6 0M156.5 194.8a2.8 2.8 0 1 0 5.6 0a2.8 2.8 0 1 0 -5.6 0M158.8 193.2a2.8 2.8 0 1 0 5.6 0a2.8 2.8 0 1 0 -5.6 0M160.5 192.0a2.8 2.8 0 1 0 5.6 0a2.8 2.8 0 1 0 -5.6 0M162.6 190.0a2.8 2.8 0 1 0 5.6 0a2.8 2.8 0 1 0 -5.6 0M164.6 189.0a2.8 2.8 0 1 0 5.6 0a2.8 2.8 0 1 0 -5.6 0M166.8 186.5a2.8 2.8 0 1 0 5.6 0a2.8 2.8 0 1 0 -5.6 0M168.7 184.9a2.8 2.8 0 1 0 5.6 0a2.8 2.8 0 1 0 -5.6 0M170.8 182.6a2.8 2.8 0 1 0 5.6 0a2.8 2.8 0 1 0 -5.6 0M172.7 180.2a2.8 2.8 0 1 0 5.6 0a2.8 2.8 0 1 0 -5.6 0M174.8 177.5a2.8 2.8 0 1 0 5.6 0a2.8 2.8 0 1 0 -5.6 0M176.9 175.4a2.8 2.8 0 1 0 5.6 0a2.8 2.8 0 1 0 -5.6 0M178.7 172.4a2.8 2.8 0 1 0 5.6 0a2.8 2.8 0 1 0 -5.6 0M180.5 170.7a2.8 2.8 0 1 0 5.6 0a2.8 2.8 0 1 0 -5.6 0M182.7 168.3a2.8 2.8 0 1 0 5.6 0a2.8 2.8 0 1 0 -5.6 0M184.5 166.0a2.8 2.8 0 1 0 5.6 0a2.8 2.8 0 1 0 -5.6 0M186.7 163.6a2.8 2.8 0 1 0 5.6 0a2.8 2.8 0 1 0 -5.6 0M188.6 161.9a2.8 2.8 0 1 0 5.6 0a2.8 2.8 0 1 0 -5.6 0M190.6 159.6a2.8 2.8 0 1 0 5.6 0a2.8 2.8 0 1 0 -5.6 0M192.4 157.8a2.8 2.8 0 1 0 5.6 0a2.8 2.8 0 1 0 -5.6 0M194.6 155.3a2.8 2.8 0 1 0 5.6 0a2.8 2.8 0 1 0 -5.6 0M196.5 153.4a2.8 2.8 0 1 0 5.6 0a2.8 2.8 0 1 0 -5.6 0M198.7 151.7a2.8 2.8 0 1 0 5.6 0a2.8 2.8 0 1 0 -5.6 0M200.7 149.5a2.8 2.8 0 1 0 5.6 0a2.8 2.8 0 1 0 -5.6 0M202.7 147.3a2.8 2.8 0 1 0 5.6 0a2.8 2.8 0 1 0 -5.6 0M204.4 145.4a2.8 2.8 0 1 0 5.6 0a2.8 2.8 0 1 0 -5.6 0M206.5 143.9a2.8 2.8 0 1 0 5.6 0a2.8 2.8 0 1 0 -5.6 0M208.5 141.5a2.8 2.8 0 1 0 5.6 0a2.8 2.8 0 1 0 -5.6 0M210.6 139.6a2.8 2.8 0 1 0 5.6 0a2.8 2.8 0 1 0 -5.6 0M212.7 137.3a2.8 2.8 0 1 0 5.6 0a2.8 2.8 0 1 0 -5.6 0M214.5 135.0a2.8 2.8 0 1 0 5.6 0a2.8 2.8 0 1 0 -5.6 0M216.8 132.8a2.8 2.8 0 1 0 5.6 0a2.8 2.8 0 1 0 -5.6 0M218.8 130.9a2.8 2.8 0 1 0 5.6 0a2.8 2.8 0 1 0 -5.6 0M220.6 128.3a2.8 2.8 0 1 0 5.6 0a2.8 2.8 0 1 0 -5.6 0M222.5 126.3a2.8 2.8 0 1 0 5.6 0a2.8 2.8 0 1 0 -5.6 0M224.7 123.9a2.8 2.8 0 1 0 5.6 0a2.8 2.8 0 1 0 -5.6 0M226.6 121.2a2.8 2.8 0 1 0 5.6 0a2.8 2.8 0 1 0 -5.6 0M228.8 119.0a2.8 2.8 0 1 0 5.6 0a2.8 2.8 0 1 0 -5.6 0M230.6 117.2a2.8 2.8 0 1 0 5.6 0a2.8 2.8 0 1 0 -5.6 0M232.2 114.2a2.8 2.8 0 1 0 5.6 0a2.8 2.8 0 1 0 -5.6 0M234.6 111.8a2.8 2.8 0 1 0 5.6 0a2.8 2.8 0 1 0 -5.6 0M236.7 109.1a2.8 2.8 0 1 0 5.6 0a2.8 2.8 0 1 0 -5.6 0M238.5 106.5a2.8 2.8 0 1 0 5.6 0a2.8 2.8 0 1 0 -5.6 0M240.4 104.5a2.8 2.8 0 1 0 5.6 0a2.8 2.8 0 1 0 -5.6 0M242.7 102.2a2.8 2.8 0 1 0 5.6 0a2.8 2.8 0 1 0 -5.6 0M244.4 99.2a2.8 2.8 0 1 0 5.6 0a2.8 2.8 0 1 0 -5.6 0M246.6 97.2a2.8 2.8 0 1 0 5.6 0a2.8 2.8 0 1 0 -5.6 0M248.5 94.1a2.8 2.8 0 1 0 5.6 0a2.8 2.8 0 1 0 -5.6 0M250.6 91.4a2.8 2.8 0 1 0 5.6 0a2.8 2.8 0 1 0 -5.6 0M252.6 88.3a2.8 2.8 0 1 0 5.6 0a2.8 2.8 0 1 0 -5.6 0M254.8 85.0a2.8 2.8 0 1 0 5.6 0a2.8 2.8 0 1 0 -5.6 0M256.7 81.1a2.8 2.8 0 1 0 5.6 0a2.8 2.8 0 1 0 -5.6 0M258.7 77.8a2.8 2.8 0 1 0 5.6 0a2.8 2.8 0 1 0 -5.6 0M260.7 74.1a2.8 2.8 0 1 0 5.6 0a2.8 2.8 0 1 0 -5.6 0M262.8 71.8a2.8 2.8 0 1 0 5.6 0a2.8 2.8 0 1 0 -5.6 0M264.7 69.4a2.8 2.8 0 1 0 5.6 0a2.8 2.8 0 1 0 -5.6 0M266.8 67.1a2.8 2.8 0 1 0 5.6 0a2.8 2.8 0 1 0 -5.6 0M268.5 64.4a2.8 2.8 0 1 0 5.6 0a2.8 2.8 0 1 0 -5.6 0M270.5 61.6a2.8 2.8 0 1 0 5.6 0a2.8 2.8 0 1 0 -5.6 0M272.6 58.6a2.8 2.8 0 1 0 5.6 0a2.8 2.8 0 1 0 -5.6 0M274.9 55.6a2.8 2.8 0 1 0 5.6 0a2.8 2.8 0 1 0 -5.6 0M276.6 52.6a2.8 2.8 0 1 0 5.6 0a2.8 2.8 0 1 0 -5.6 0M278.7 49.9a2.8 2.8 0 1 0 5.6 0a2.8 2.8 0 1 0 -5.6 0M280.5 47.0a2.8 2.8 0 1 0 5.6 0a2.8 2.8 0 1 0 -5.6 0M282.7 44.6a2.8 2.8 0 1 0 5.6 0a2.8 2.8 0 1 0 -5.6 0M284.5 42.0a2.8 2.8 0 1 0 5.6 0a2.8 2.8 0 1 0 -5.6 0M286.7 39.1a2.8 2.8 0 1 0 5.6 0a2.8 2.8 0 1 0 -5.6 0M288.6 36.8a2.8 2.8 0 1 0 5.6 0a2.8 2.8 0 1 0 -5.6 0M290.6 33.5a2.8 2.8 0 1 0 5.6 0a2.8 2.8 0 1 0 -5.6 0M292.5 30.3a2.8 2.8 0 1 0 5.6 0a2.8 2.8 0 1 0 -5.6 0M294.6 27.7a2.8 2.8 0 1 0 5.6 0a2.8 2.8 0 1 0 -5.6 0M30.7 256.7a2.8 2.8 0 1 0 5.6 0a2.8 2.8 0 1 0 -5.6 0M32.2 257.4a2.8 2.8 0 1 0 5.6 0a2.8 2.8 0 1 0 -5.6 0M34.3 257.0a2.8 2.8 0 1 0 5.6 0a2.8 2.8 0 1 0 -5.6 0M36.0 257.0a2.8 2.8 0 1 0 5.6 0a2.8 2.8 0 1 0 -5.6 0M38.2 257.1a2.8 2.8 0 1 0 5.6 0a2.8 2.8 0 1 0 -5.6 0M40.2 256.9a2.8 2.8 0 1 0 5.6 0a2.8 2.8 0 1 0 -5.6 0M42.2 256.3a2.8 2.8 0 1 0 5.6 0a2.8 2.8 0 1 0 -5.6 0M44.1 256.4a2.8 2.8 0 1 0 5.6 0a2.8 2.8 0 1 0 -5.6 0M46.1 255.9a2.8 2.8 0 1 0 5.6 0a2.8 2.8 0 1 0 -5.6 0M48.4 255.3a2.8 2.8 0 1 0 5.6 0a2.8 2.8 0 1 0 -5.6 0M50.2 255.6a2.8 2.8 0 1 0 5.6 0a2.8 2.8 0 1 0 -5.6 0M52.1 255.4a2.8 2.8 0 1 0 5.6 0a2.8 2.8 0 1 0 -5.6 0M54.5 254.6a2.8 2.8 0 1 0 5.6 0a2.8 2.8 0 1 0 -5.6 0M55.9 254.2a2.8 2.8 0 1 0 5.6 0a2.8 2.8 0 1 0 -5.6 0M58.1 252.4a2.8 2.8 0 1 0 5.6 0a2.8 2.8 0 1 0 -5.6 0M60.2 252.6a2.8 2.8 0 1 0 5.6 0a2.8 2.8 0 1 0 -5.6 0M62.3 251.4a2.8 2.8 0 1 0 5.6 0a2.8 2.8 0 1 0 -5.6 0M64.3 250.2a2.8 2.8 0 1 0 5.6 0a2.8 2.8 0 1 0 -5.6 0M66.3 249.6a2.8 2.8 0 1 0 5.6 0a2.8 2.8 0 1 0 -5.6 0M68.1 248.5a2.8 2.8 0 1 0 5.6 0a2.8 2.8 0 1 0 -5.6 0M70.2 247.6a2.8 2.8 0 1 0 5.6 0a2.8 2.8 0 1 0 -5.6 0M72.6 246.8a2.8 2.8 0 1 0 5.6 0a2.8 2.8 0 1 0 -5.6 0M73.9 245.2a2.8 2.8 0 1 0 5.6 0a2.8 2.8 0 1 0 -5.6 0M76.3 244.1a2.8 2.8 0 1 0 5.6 0a2.8 2.8 0 1 0 -5.6 0M78.4 243.3a2.8 2.8 0 1 0 5.6 0a2.8 2.8 0 1 0 -5.6 0M80.1 241.7a2.8 2.8 0 1 0 5.6 0a2.8 2.8 0 1 0 -5.6 0M82.1 241.1a2.8 2.8 0 1 0 5.6 0a2.8 2.8 0 1 0 -5.6 0M84.2 240.0a2.8 2.8 0 1 0 5.6 0a2.8 2.8 0 1 0 -5.6 0M86.3 238.9a2.8 2.8 0 1 0 5.6 0a2.8 2.8 0 1 0 -5.6 0M88.3 238.0a2.8 2.8 0 1 0 5.6 0a2.8 2.8 0 1 0 -5.6 0M90.3 236.7a2.8 2.8 0 1 0 5.6 0a2.8 2.8 0 1 0 -5.6 0M92.3 236.2a2.8 2.8 0 1 0 5.6 0a2.8 2.8 0 1 0 -5.6 0M94.2 235.7a2.8 2.8 0 1 0 5.6 0a2.8 2.8 0 1 0 -5.6 0M96.1 234.4a2.8 2.8 0 1 0 5.6 0a2.8 2.8 0 1 0 -5.6 0M98.3 233.7a2.8 2.8 0 1 0 5.6 0a2.8 2.8 0 1 0 -5.6 0M100.4 232.7a2.8 2.8 0 1 0 5.6 0a2.8 2.8 0 1 0 -5.6 0M102.2 232.1a2.8 2.8 0 1 0 5.6 0a2.8 2.8 0 1 0 -5.6 0M104.3 230.6a2.8 2.8 0 1 0 5.6 0a2.8 2.8 0 1 0 -5.6 0M106.0 230.0a2.8 2.8 0 1 0 5.6 0a2.8 2.8 0 1 0 -5.6 0M108.5 228.8a2.8 2.8 0 1 0 5.6 0a2.8 2.8 0 1 0 -5.6 0M110.3 227.2a2.8 2.8 0 1 0 5.6 0a2.8 2.8 0 1 0 -5.6 0M112.4 226.3a2.8 2.8 0 1 0 5.6 0a2.8 2.8 0 1 0 -5.6 0M114.2 224.0a2.8 2.8 0 1 0 5.6 0a2.8 2.8 0 1 0 -5.6 0M116.2 222.7a2.8 2.8 0 1 0 5.6 0a2.8 2.8 0 1 0 -5.6 0M118.3 220.7a2.8 2.8 0 1 0 5.6 0a2.8 2.8 0 1 0 -5.6 0M120.2 219.8a2.8 2.8 0 1 0 5.6 0a2.8 2.8 0 1 0 -5.6 0M122.4 218.7a2.8 2.8 0 1 0 5.6 0a2.8 2.8 0 1 0 -5.6 0M124.1 217.4a2.8 2.8 0 1 0 5.6 0a2.8 2.8 0 1 0 -5.6 0M126.4 216.4a2.8 2.8 0 1 0 5.6 0a2.8 2.8 0 1 0 -5.6 0M128.4 215.0a2.8 2.8 0 1 0 5.6 0a2.8 2.8 0 1 0 -5.6 0M130.1 213.9a2.8 2.8 0 1 0 5.6 0a2.8 2.8 0 1 0 -5.6 0M132.1 213.0a2.8 2.8 0 1 0 5.6 0a2.8 2.8 0 1 0 -5.6 0M134.1 211.6a2.8 2.8 0 1 0 5.6 0a2.8 2.8 0 1 0 -5.6 0M136.0 210.1a2.8 2.8 0 1 0 5.6 0a2.8 2.8 0 1 0 -5.6 0M138.4 208.3a2.8 2.8 0 1 0 5.6 0a2.8 2.8 0 1 0 -5.6 0M140.2 207.0a2.8 2.8 0 1 0 5.6 0a2.8 2.8 0 1 0 -5.6 0M142.3 205.2a2.8 2.8 0 1 0 5.6 0a2.8 2.8 0 1 0 -5.6 0M144.1 203.5a2.8 2.8 0 1 0 5.6 0a2.8 2.8 0 1 0 -5.6 0M146.1 202.4a2.8 2.8 0 1 0 5.6 0a2.8 2.8 0 1 0 -5.6 0M148.2 201.2a2.8 2.8 0 1 0 5.6 0a2.8 2.8 0 1 0 -5.6 0M150.2 200.3a2.8 2.8 0 1 0 5.6 0a2.8 2.8 0 1 0 -5.6 0M152.4 199.9a2.8 2.8 0 1 0 5.6 0a2.8 2.8 0 1 0 -5.6 0M154.2 198.9a2.8 2.8 0 1 0 5.6 0a2.8 2.8 0 1 0 -5.6 0M156.0 197.6a2.8 2.8 0 1 0 5.6 0a2.8 2.8 0 1 0 -5.6 0M157.9 196.7a2.8 2.8 0 1 0 5.6 0a2.8 2.8 0 1 0 -5.6 0M160.3 195.6a2.8 2.8 0 1 0 5.6 0a2.8 2.8 0 1 0 -5.6 0M162.4 194.9a2.8 2.8 0 1 0 5.6 0a2.8 2.8 0 1 0 -5.6 0M164.3 192.7a2.8 2.8 0 1 0 5.6 0a2.8 2.8 0 1 0 -5.6 0M166.3 190.9a2.8 2.8 0 1 0 5.6 0a2.8 2.8 0 1 0 -5.6 0M168.4 189.0a2.8 2.8 0 1 0 5.6 0a2.8 2.8 0 1 0 -5.6 0M170.4 187.4a2.8 2.8 0 1 0 5.6 0a2.8 2.8 0 1 0 -5.6 0M172.2 184.8a2.8 2.8 0 1 0 5.6 0a2.8 2.8 0 1 0 -5.6 0M174.4 181.6a2.8 2.8 0 1 0 5.6 0a2.8 2.8 0 1 0 -5.6 0M176.1 179.5a2.8 2.8 0 1 0 5.6 0a2.8 2.8 0 1 0 -5.6 0M178.0 176.4a2.8 2.8 0 1 0 5.6 0a2.8 2.8 0 1 0 -5.6 0M180.4 173.7a2.8 2.8 0 1 0 5.6 0a2.8 2.8 0 1 0 -5.6 0M182.1 171.2a2.8 2.8 0 1 0 5.6 0a2.8 2.8 0 1 0 -5.6 0M184.3 168.4a2.8 2.8 0 1 0 5.6 0a2.8 2.8 0 1 0 -5.6 0M186.3 166.7a2.8 2.8 0 1 0 5.6 0a2.8 2.8 0 1 0 -5.6 0M188.0 164.5a2.8 2.8 0 1 0 5.6 0a2.8 2.8 0 1 0 -5.6 0M190.2 163.0a2.8 2.8 0 1 0 5.6 0a2.8 2.8 0 1 0 -5.6 0M192.3 160.7a2.8 2.8 0 1 0 5.6 0a2.8 2.8 0 1 0 -5.6 0M194.2 158.4a2.8 2.8 0 1 0 5.6 0a2.8 2.8 0 1 0 -5.6 0M196.3 157.2a2.8 2.8 0 1 0 5.6 0a2.8 2.8 0 1 0 -5.6 0M198.3 155.8a2.8 2.8 0 1 0 5.6 0a2.8 2.8 0 1 0 -5.6 0M200.2 153.3a2.8 2.8 0 1 0 5.6 0a2.8 2.8 0 1 0 -5.6 0M202.2 152.1a2.8 2.8 0 1 0 5.6 0a2.8 2.8 0 1 0 -5.6 0M204.0 149.9a2.8 2.8 0 1 0 5.6 0a2.8 2.8 0 1 0 -5.6 0M206.3 148.6a2.8 2.8 0 1 0 5.6 0a2.8 2.8 0 1 0 -5.6 0M208.0 146.5a2.8 2.8 0 1 0 5.6 0a2.8 2.8 0 1 0 -5.6 0M209.8 144.9a2.8 2.8 0 1 0 5.6 0a2.8 2.8 0 1 0 -5.6 0M212.5 142.2a2.8 2.8 0 1 0 5.6 0a2.8 2.8 0 1 0 -5.6 0M214.3 140.1a2.8 2.8 0 1 0 5.6 0a2.8 2.8 0 1 0 -5.6 0M216.4 137.6a2.8 2.8 0 1 0 5.6 0a2.8 2.8 0 1 0 -5.6 0M218.3 135.3a2.8 2.8 0 1 0 5.6 0a2.8 2.8 0 1 0 -5.6 0M220.1 133.4a2.8 2.8 0 1 0 5.6 0a2.8 2.8 0 1 0 -5.6 0M222.0 131.2a2.8 2.8 0 1 0 5.6 0a2.8 2.8 0 1 0 -5.6 0M224.2 128.4a2.8 2.8 0 1 0 5.6 0a2.8 2.8 0 1 0 -5.6 0M226.3 126.0a2.8 2.8 0 1 0 5.6 0a2.8 2.8 0 1 0 -5.6 0M228.2 123.9a2.8 2.8 0 1 0 5.6 0a2.8 2.8 0 1 0 -5.6 0M230.1 121.1a2.8 2.8 0 1 0 5.6 0a2.8 2.8 0 1 0 -5.6 0M232.3 118.6a2.8 2.8 0 1 0 5.6 0a2.8 2.8 0 1 0 -5.6 0M234.3 116.2a2.8 2.8 0 1 0 5.6 0a2.8 2.8 0 1 0 -5.6 0M236.1 113.8a2.8 2.8 0 1 0 5.6 0a2.8 2.8 0 1 0 -5.6 0M238.1 111.5a2.8 2.8 0 1 0 5.6 0a2.8 2.8 0 1 0 -5.6 0M240.4 108.9a2.8 2.8 0 1 0 5.6 0a2.8 2.8 0 1 0 -5.6 0M242.2 106.2a2.8 2.8 0 1 0 5.6 0a2.8 2.8 0 1 0 -5.6 0M244.1 103.7a2.8 2.8 0 1 0 5.6 0a2.8 2.8 0 1 0 -5.6 0M246.2 101.4a2.8 2.8 0 1 0 5.6 0a2.8 2.8 0 1 0 -5.6 0M248.2 99.1a2.8 2.8 0 1 0 5.6 0a2.8 2.8 0 1 0 -5.6 0M250.3 97.0a2.8 2.8 0 1 0 5.6 0a2.8 2.8 0 1 0 -5.6 0M252.2 93.9a2.8 2.8 0 1 0 5.6 0a2.8 2.8 0 1 0 -5.6 0M254.1 90.7a2.8 2.8 0 1 0 5.6 0a2.8 2.8 0 1 0 -5.6 0M256.2 87.3a2.8 2.8 0 1 0 5.6 0a2.8 2.8 0 1 0 -5.6 0M258.3 85.1a2.8 2.8 0 1 0 5.6 0a2.8 2.8 0 1 0 -5.6 0M260.5 81.7a2.8 2.8 0 1 0 5.6 0a2.8 2.8 0 1 0 -5.6 0M262.1 79.1a2.8 2.8 0 1 0 5.6 0a2.8 2.8 0 1 0 -5.6 0M264.1 76.4a2.8 2.8 0 1 0 5.6 0a2.8 2.8 0 1 0 -5.6 0M266.5 74.2a2.8 2.8 0 1 0 5.6 0a2.8 2.8 0 1 0 -5.6 0M268.1 71.6a2.8 2.8 0 1 0 5.6 0a2.8 2.8 0 1 0 -5.6 0M270.2 68.7a2.8 2.8 0 1 0 5.6 0a2.8 2.8 0 1 0 -5.6 0M272.2 65.5a2.8 2.8 0 1 0 5.6 0a2.8 2.8 0 1 0 -5.6 0M274.3 63.2a2.8 2.8 0 1 0 5.6 0a2.8 2.8 0 1 0 -5.6 0M276.0 60.4a2.8 2.8 0 1 0 5.6 0a2.8 2.8 0 1 0 -5.6 0M278.4 57.3a2.8 2.8 0 1 0 5.6 0a2.8 2.8 0 1 0 -5.6 0M280.0 55.6a2.8 2.8 0 1 0 5.6 0a2.8 2.8 0 1 0 -5.6 0M282.2 53.1a2.8 2.8 0 1 0 5.6 0a2.8 2.8 0 1 0 -5.6 0M284.3 50.9a2.8 2.8 0 1 0 5.6 0a2.8 2.8 0 1 0 -5.6 0M286.3 48.2a2.8 2.8 0 1 0 5.6 0a2.8 2.8 0 1 0 -5.6 0M288.2 45.6a2.8 2.8 0 1 0 5.6 0a2.8 2.8 0 1 0 -5.6 0M289.8 42.0a2.8 2.8 0 1 0 5.6 0a2.8 2.8 0 1 0 -5.6 0M292.0 39.2a2.8 2.8 0 1 0 5.6 0a2.8 2.8 0 1 0 -5.6 0M294.3 36.7a2.8 2.8 0 1 0 5.6 0a2.8 2.8 0 1 0 -5.6 0"/>
</g>
<g stroke="#0000ff" stroke-width="2" stroke-linecap="butt">
<line x1="164.5" y1="196.7" x2="298" y2="34.4"/>
<line x1="164.7" y1="204.9" x2="298" y2="93.5"/>
<line x1="164.5" y1="238.8" x2="298" y2="151.8"/>
</g></g>
<g stroke="#000" stroke-width="2" fill="none">
<rect x="33.0" y="7.0" width="265.0" height="264.5"/>
</g>
<g font-size="14" fill="#000">
<text x="33.0" y="286.5" text-anchor="middle">0</text>
<text x="86.0" y="286.5" text-anchor="middle">0.2</text>
<text x="139.0" y="286.5" text-anchor="middle">0.4</text>
<text x="192.0" y="286.5" text-anchor="middle">0.6</text>
<text x="245.0" y="286.5" text-anchor="middle">0.8</text>
<text x="298.0" y="286.5" text-anchor="middle">1.0</text>
<text x="30.5" y="260.5" text-anchor="end">0</text>
<text x="30.5" y="198.4" text-anchor="end">2</text>
<text x="30.5" y="136.2" text-anchor="end">4</text>
<text x="30.5" y="74.1" text-anchor="end">6</text>
<text x="30.5" y="12.0" text-anchor="end">8</text>
<text x="165" y="303" text-anchor="middle">Strain, ε [%]</text>
<text transform="translate(11.6 139.2) rotate(-90)" text-anchor="middle" font-size="13.9">Normalized change in resistance, R<tspan font-size="9.5" dy="5.3">n</tspan><tspan dy="-5.3">/1000</tspan></text>
<text x="107.5" y="123.5">3 wt%</text>
<text x="107.5" y="156">2 wt%</text>
<text x="107.5" y="188">1 wt%</text>
</g>
<line x1="152.3" y1="94" x2="152.3" y2="218" stroke="#000" stroke-width="1.1"/>
<path d="M148.4 215.8L152.3 218L156.2 215.8L152.4 225.8Z" fill="#000"/>
<rect x="44.5" y="16.2" width="112" height="38" fill="#fff" stroke="#000" stroke-width="2"/>
<circle cx="64.2" cy="26" r="2.8" fill="none" stroke="#ff0000" stroke-width="1"/>
<line x1="49.7" y1="43.6" x2="79.6" y2="43.6" stroke="#0000ff" stroke-width="2"/>
<g font-size="13.6"><text x="82.6" y="31">Raw data</text><text x="82.6" y="50.2">Fitting line</text></g>
<path d="M414.5 221.8V238.0M412.3 221.8h4.4M412.3 238.0h4.4" stroke="#ff0000" stroke-width="2" fill="none"/>
<circle cx="414.5" cy="229.9" r="3" fill="none" stroke="#ff0000" stroke-width="1.8"/>
<path d="M502.7 169.5V188.7M500.5 169.5h4.4M500.5 188.7h4.4" stroke="#ff0000" stroke-width="2" fill="none"/>
<circle cx="502.7" cy="179.1" r="3" fill="none" stroke="#ff0000" stroke-width="1.8"/>
<path d="M590.9 71.8V90.6M588.6999999999999 71.8h4.4M588.6999999999999 90.6h4.4" stroke="#ff0000" stroke-width="2" fill="none"/>
<circle cx="590.9" cy="81.2" r="3" fill="none" stroke="#ff0000" stroke-width="1.8"/>
<path d="M414.5 205.4V221.4M412.3 205.4h4.4M412.3 221.4h4.4" stroke="#00ff00" stroke-width="2" fill="none"/>
<rect x="411.7" y="210.6" width="5.6" height="5.6" fill="none" stroke="#00ff00" stroke-width="1.7"/>
<path d="M502.7 150.8V168.4M500.5 150.8h4.4M500.5 168.4h4.4" stroke="#00ff00" stroke-width="2" fill="none"/>
<rect x="499.9" y="156.8" width="5.6" height="5.6" fill="none" stroke="#00ff00" stroke-width="1.7"/>
<path d="M590.9 33.7V64.9M588.6999999999999 33.7h4.4M588.6999999999999 64.9h4.4" stroke="#00ff00" stroke-width="2" fill="none"/>
<rect x="588.1" y="46.5" width="5.6" height="5.6" fill="none" stroke="#00ff00" stroke-width="1.7"/>
<path d="M414.5 182.2V221.8M412.3 182.2h4.4M412.3 221.8h4.4" stroke="#00ffff" stroke-width="2" fill="none"/>
<path d="M414.5 198.0L418.1 202.0L414.5 206.0L410.9 202.0Z" fill="none" stroke="#00ffff" stroke-width="1.8"/>
<path d="M502.7 164.3V183.1M500.5 164.3h4.4M500.5 183.1h4.4" stroke="#00ffff" stroke-width="2" fill="none"/>
<path d="M502.7 169.7L506.3 173.7L502.7 177.7L499.09999999999997 173.7Z" fill="none" stroke="#00ffff" stroke-width="1.8"/>
<path d="M590.9 63.4V80.6M588.6999999999999 63.4h4.4M588.6999999999999 80.6h4.4" stroke="#00ffff" stroke-width="2" fill="none"/>
<path d="M590.9 68.0L594.5 72.0L590.9 76.0L587.3 72.0Z" fill="none" stroke="#00ffff" stroke-width="1.8"/>
<path d="M414.5 209.5V225.5M412.3 209.5h4.4M412.3 225.5h4.4" stroke="#ff00ff" stroke-width="2" fill="none"/>
<path d="M414.5 212.2L418.3 219.0L410.7 219.0Z" fill="none" stroke="#ff00ff" stroke-width="1.7" stroke-linejoin="round"/>
<path d="M502.7 188.5V202.5M500.5 188.5h4.4M500.5 202.5h4.4" stroke="#ff00ff" stroke-width="2" fill="none"/>
<path d="M502.7 190.2L506.5 197.0L498.9 197.0Z" fill="none" stroke="#ff00ff" stroke-width="1.7" stroke-linejoin="round"/>
<path d="M590.9 107.8V124.0M588.6999999999999 107.8h4.4M588.6999999999999 124.0h4.4" stroke="#ff00ff" stroke-width="2" fill="none"/>
<path d="M590.9 110.6L594.7 117.4L587.1 117.4Z" fill="none" stroke="#ff00ff" stroke-width="1.7" stroke-linejoin="round"/>
<g stroke="#000" stroke-width="2" fill="none">
<rect x="370.6" y="7.0" width="264.4" height="268.5"/>
<path d="M414.5 275.5v-4.3M414.5 7.0v4.2M502.7 275.5v-4.3M502.7 7.0v4.2M590.9 275.5v-4.3M590.9 7.0v4.2M370.6 237.14h5M635.0 237.14h-5M370.6 198.78h5M635.0 198.78h-5M370.6 160.42h5M635.0 160.42h-5M370.6 122.06h5M635.0 122.06h-5M370.6 83.70h5M635.0 83.70h-5M370.6 45.34h5M635.0 45.34h-5" stroke-width="1.7"/>
</g>
<g font-size="14" fill="#000">
<text x="414.5" y="290" text-anchor="middle">1</text>
<text x="502.7" y="290" text-anchor="middle">2</text>
<text x="590.9" y="290" text-anchor="middle">3</text>
<text x="367.5" y="280.5" text-anchor="end">0.8</text>
<text x="367.5" y="242.1" text-anchor="end">1</text>
<text x="367.5" y="203.8" text-anchor="end">1.2</text>
<text x="367.5" y="165.4" text-anchor="end">1.4</text>
<text x="367.5" y="127.1" text-anchor="end">1.6</text>
<text x="367.5" y="88.7" text-anchor="end">1.8</text>
<text x="367.5" y="50.3" text-anchor="end">2</text>
<text x="367.5" y="12.0" text-anchor="end">2.2</text>
<text x="502" y="306" text-anchor="middle">MWCNT concentration [wt%]</text>
<text transform="translate(340.4 142.6) rotate(-90)" text-anchor="middle">Strain sensitivity, S</text>
</g>
<rect x="380.7" y="16.6" width="134.3" height="87.2" fill="#fff" stroke="#000" stroke-width="2"/>
<circle cx="398.9" cy="28.2" r="3.2" fill="none" stroke="#ff0000" stroke-width="1"/>
<rect x="396.3" y="46.5" width="5.2" height="5.2" fill="none" stroke="#00ff00" stroke-width="1"/>
<path d="M398.9 66.2L402.5 70.4L398.9 74.6L395.3 70.4Z" fill="none" stroke="#00ffff" stroke-width="1"/>
<path d="M398.9 87.6L403 93.6L394.8 93.6Z" fill="none" stroke="#ff00ff" stroke-width="1"/>
<g font-size="14">
<text x="414.5" y="34.6">0.5%-min<tspan font-size="9.5" dy="-5.5">-1</tspan><tspan dy="5.5">; 1%</tspan></text>
<text x="414.5" y="55.8">1%-min<tspan font-size="9.5" dy="-5.5">-1</tspan><tspan dy="5.5">; 1%</tspan></text>
<text x="414.5" y="77.0">1%-min<tspan font-size="9.5" dy="-5.5">-1</tspan><tspan dy="5.5">; 2%</tspan></text>
<text x="414.5" y="98.2">2%-min<tspan font-size="9.5" dy="-5.5">-1</tspan><tspan dy="5.5">; 2%</tspan></text>
</g>
<g font-family='"Liberation Serif", serif' font-size="18">
<text x="168" y="331" text-anchor="middle">(a)</text>
<text x="509.8" y="331" text-anchor="middle">(b)</text>
</g>
</svg></body></html>
